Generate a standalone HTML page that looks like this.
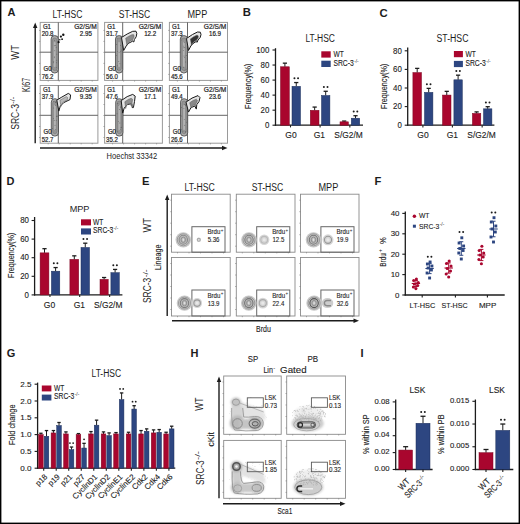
<!DOCTYPE html>
<html><head><meta charset="utf-8"><style>
html,body{margin:0;padding:0;background:#fff;}
svg{display:block;font-family:"Liberation Sans", sans-serif;}
</style></head><body>
<svg width="520" height="524" viewBox="0 0 520 524">
<defs><filter id="blur1" x="-50%" y="-50%" width="200%" height="200%"><feGaussianBlur stdDeviation="0.45"/></filter>
<filter id="blur3" x="-50%" y="-50%" width="200%" height="200%"><feGaussianBlur stdDeviation="0.7"/></filter>
<filter id="blur2" x="-50%" y="-50%" width="200%" height="200%"><feGaussianBlur stdDeviation="0.8"/></filter></defs>
<rect x="0" y="0" width="520" height="524" fill="#fff"/>
<text x="67.50" y="17.90" font-size="10.0" fill="#1c1c1c" text-anchor="middle" textLength="29.8" lengthAdjust="spacingAndGlyphs">LT-HSC</text>
<text x="134.50" y="17.90" font-size="10.0" fill="#1c1c1c" text-anchor="middle" textLength="31.3" lengthAdjust="spacingAndGlyphs">ST-HSC</text>
<text x="197.40" y="17.90" font-size="10.0" fill="#1c1c1c" text-anchor="middle" textLength="19.7" lengthAdjust="spacingAndGlyphs">MPP</text>
<rect x="40.20" y="22.40" width="57.70" height="58.00" fill="none" stroke="#9a9a9a" stroke-width="1"/>
<line x1="58.30" y1="22.40" x2="58.30" y2="80.40" stroke="#555" stroke-width="0.9"/>
<line x1="40.20" y1="52.20" x2="97.90" y2="52.20" stroke="#555" stroke-width="0.9"/>
<line x1="48.20" y1="80.40" x2="48.20" y2="81.60" stroke="#777" stroke-width="0.6"/>
<line x1="40.20" y1="30.40" x2="39.00" y2="30.40" stroke="#777" stroke-width="0.6"/>
<line x1="59.20" y1="80.40" x2="59.20" y2="81.60" stroke="#777" stroke-width="0.6"/>
<line x1="40.20" y1="41.40" x2="39.00" y2="41.40" stroke="#777" stroke-width="0.6"/>
<line x1="70.20" y1="80.40" x2="70.20" y2="81.60" stroke="#777" stroke-width="0.6"/>
<line x1="40.20" y1="52.40" x2="39.00" y2="52.40" stroke="#777" stroke-width="0.6"/>
<line x1="81.20" y1="80.40" x2="81.20" y2="81.60" stroke="#777" stroke-width="0.6"/>
<line x1="40.20" y1="63.40" x2="39.00" y2="63.40" stroke="#777" stroke-width="0.6"/>
<line x1="92.20" y1="80.40" x2="92.20" y2="81.60" stroke="#777" stroke-width="0.6"/>
<line x1="40.20" y1="74.40" x2="39.00" y2="74.40" stroke="#777" stroke-width="0.6"/>
<g transform="translate(39.800000000000004,22.0)"><g filter="url(#blur1)"><rect x="11.3" y="13.6" width="7.2" height="37.4" rx="3.4" fill="#acacac" stroke="#444" stroke-width="0.8"/><rect x="12.700000000000001" y="16" width="4.4" height="32.5" rx="2" fill="#959595" stroke="#6a6a6a" stroke-width="0.5"/><rect x="14.0" y="20" width="1.8" height="25" rx="0.8" fill="#b4b4b4"/><circle cx="16.69" cy="40.77" r="0.45" fill="#555"/><circle cx="14.49" cy="23.80" r="0.45" fill="#555"/><circle cx="14.96" cy="28.77" r="0.45" fill="#555"/><circle cx="16.38" cy="25.31" r="0.45" fill="#555"/><circle cx="14.78" cy="34.83" r="0.45" fill="#555"/><circle cx="17.02" cy="32.16" r="0.45" fill="#555"/><circle cx="13.77" cy="40.70" r="0.45" fill="#555"/><circle cx="15.52" cy="23.52" r="0.45" fill="#555"/><circle cx="17.03" cy="48.41" r="0.45" fill="#555"/><circle cx="16.51" cy="45.67" r="0.45" fill="#555"/><circle cx="13.91" cy="39.81" r="0.45" fill="#555"/><circle cx="16.97" cy="38.26" r="0.45" fill="#555"/><circle cx="14.76" cy="18.42" r="0.45" fill="#555"/><circle cx="14.56" cy="35.77" r="0.45" fill="#555"/></g><circle cx="21.1" cy="14.6" r="1.1" fill="#111"/><circle cx="22.3" cy="17.2" r="0.9" fill="#111"/><circle cx="18.8" cy="20.2" r="1.1" fill="#111"/><circle cx="23.5" cy="12.8" r="1.2" fill="#111"/><circle cx="20" cy="17.8" r="0.7" fill="#111"/></g>
<text x="42.90" y="28.90" font-size="6.8" fill="#1c1c1c" stroke="#1c1c1c" stroke-width="0.2" textLength="8.1" lengthAdjust="spacingAndGlyphs">G1</text>
<text x="41.70" y="36.20" font-size="7.0" fill="#1c1c1c" stroke="#1c1c1c" stroke-width="0.2" textLength="11.8" lengthAdjust="spacingAndGlyphs">20.8</text>
<text x="96.70" y="28.90" font-size="6.8" fill="#1c1c1c" text-anchor="end" stroke="#1c1c1c" stroke-width="0.2" textLength="22.5" lengthAdjust="spacingAndGlyphs">G2/S/M</text>
<text x="85.80" y="36.20" font-size="7.0" fill="#1c1c1c" text-anchor="middle" stroke="#1c1c1c" stroke-width="0.2" textLength="12.1" lengthAdjust="spacingAndGlyphs">2.95</text>
<text x="43.50" y="70.70" font-size="6.8" fill="#1c1c1c" stroke="#1c1c1c" stroke-width="0.2" textLength="8.1" lengthAdjust="spacingAndGlyphs">G0</text>
<text x="41.70" y="78.80" font-size="7.0" fill="#1c1c1c" stroke="#1c1c1c" stroke-width="0.2" textLength="11.8" lengthAdjust="spacingAndGlyphs">76.2</text>
<rect x="104.60" y="22.40" width="57.80" height="58.00" fill="none" stroke="#9a9a9a" stroke-width="1"/>
<line x1="122.70" y1="22.40" x2="122.70" y2="80.40" stroke="#555" stroke-width="0.9"/>
<line x1="104.60" y1="52.20" x2="162.40" y2="52.20" stroke="#555" stroke-width="0.9"/>
<line x1="112.60" y1="80.40" x2="112.60" y2="81.60" stroke="#777" stroke-width="0.6"/>
<line x1="104.60" y1="30.40" x2="103.40" y2="30.40" stroke="#777" stroke-width="0.6"/>
<line x1="123.60" y1="80.40" x2="123.60" y2="81.60" stroke="#777" stroke-width="0.6"/>
<line x1="104.60" y1="41.40" x2="103.40" y2="41.40" stroke="#777" stroke-width="0.6"/>
<line x1="134.60" y1="80.40" x2="134.60" y2="81.60" stroke="#777" stroke-width="0.6"/>
<line x1="104.60" y1="52.40" x2="103.40" y2="52.40" stroke="#777" stroke-width="0.6"/>
<line x1="145.60" y1="80.40" x2="145.60" y2="81.60" stroke="#777" stroke-width="0.6"/>
<line x1="104.60" y1="63.40" x2="103.40" y2="63.40" stroke="#777" stroke-width="0.6"/>
<line x1="156.60" y1="80.40" x2="156.60" y2="81.60" stroke="#777" stroke-width="0.6"/>
<line x1="104.60" y1="74.40" x2="103.40" y2="74.40" stroke="#777" stroke-width="0.6"/>
<g transform="translate(104.19999999999999,22.0)"><g filter="url(#blur1)"><rect x="11.3" y="13.6" width="7.2" height="37.4" rx="3.4" fill="#acacac" stroke="#444" stroke-width="0.8"/><rect x="12.700000000000001" y="16" width="4.4" height="32.5" rx="2" fill="#959595" stroke="#6a6a6a" stroke-width="0.5"/><rect x="14.0" y="20" width="1.8" height="25" rx="0.8" fill="#b4b4b4"/><circle cx="13.00" cy="43.81" r="0.45" fill="#555"/><circle cx="16.27" cy="23.67" r="0.45" fill="#555"/><circle cx="14.88" cy="30.28" r="0.45" fill="#555"/><circle cx="15.69" cy="41.82" r="0.45" fill="#555"/><circle cx="12.79" cy="15.96" r="0.45" fill="#555"/><circle cx="16.65" cy="29.71" r="0.45" fill="#555"/><circle cx="16.26" cy="15.07" r="0.45" fill="#555"/><circle cx="14.62" cy="39.53" r="0.45" fill="#555"/><circle cx="13.49" cy="47.14" r="0.45" fill="#555"/><circle cx="16.99" cy="16.04" r="0.45" fill="#555"/><circle cx="12.43" cy="33.41" r="0.45" fill="#555"/><circle cx="17.18" cy="27.96" r="0.45" fill="#555"/><circle cx="13.43" cy="29.35" r="0.45" fill="#555"/><circle cx="12.45" cy="22.54" r="0.45" fill="#555"/></g><polygon points="17.3,15.5 23,12 28.5,9.3 31.8,9.2 32.6,11.5 32,14.8 30.2,17.5 29.6,20 28.4,19.2 24.5,21.2 22,24 19.5,28.5" fill="#e4e4e4" stroke="#1a1a1a" stroke-width="1" stroke-linejoin="round"/><polygon points="21.49,16.13 24.63,14.20 27.65,12.72 29.47,12.66 29.91,13.93 29.58,15.74 28.59,17.23 28.26,18.60 27.60,18.16 25.45,19.26 24.08,20.80 22.70,23.28" fill="#8a8a8a" stroke="#555" stroke-width="0.5" filter="url(#blur1)"/></g>
<text x="107.30" y="28.90" font-size="6.8" fill="#1c1c1c" stroke="#1c1c1c" stroke-width="0.2" textLength="8.1" lengthAdjust="spacingAndGlyphs">G1</text>
<text x="106.10" y="36.20" font-size="7.0" fill="#1c1c1c" stroke="#1c1c1c" stroke-width="0.2" textLength="11.8" lengthAdjust="spacingAndGlyphs">31.7</text>
<text x="161.20" y="28.90" font-size="6.8" fill="#1c1c1c" text-anchor="end" stroke="#1c1c1c" stroke-width="0.2" textLength="22.5" lengthAdjust="spacingAndGlyphs">G2/S/M</text>
<text x="150.20" y="36.20" font-size="7.0" fill="#1c1c1c" text-anchor="middle" stroke="#1c1c1c" stroke-width="0.2" textLength="12.1" lengthAdjust="spacingAndGlyphs">12.2</text>
<text x="107.90" y="70.70" font-size="6.8" fill="#1c1c1c" stroke="#1c1c1c" stroke-width="0.2" textLength="8.1" lengthAdjust="spacingAndGlyphs">G0</text>
<text x="106.10" y="78.80" font-size="7.0" fill="#1c1c1c" stroke="#1c1c1c" stroke-width="0.2" textLength="11.8" lengthAdjust="spacingAndGlyphs">56.0</text>
<rect x="169.40" y="22.40" width="58.10" height="58.00" fill="none" stroke="#9a9a9a" stroke-width="1"/>
<line x1="187.50" y1="22.40" x2="187.50" y2="80.40" stroke="#555" stroke-width="0.9"/>
<line x1="169.40" y1="52.20" x2="227.50" y2="52.20" stroke="#555" stroke-width="0.9"/>
<line x1="177.40" y1="80.40" x2="177.40" y2="81.60" stroke="#777" stroke-width="0.6"/>
<line x1="169.40" y1="30.40" x2="168.20" y2="30.40" stroke="#777" stroke-width="0.6"/>
<line x1="188.40" y1="80.40" x2="188.40" y2="81.60" stroke="#777" stroke-width="0.6"/>
<line x1="169.40" y1="41.40" x2="168.20" y2="41.40" stroke="#777" stroke-width="0.6"/>
<line x1="199.40" y1="80.40" x2="199.40" y2="81.60" stroke="#777" stroke-width="0.6"/>
<line x1="169.40" y1="52.40" x2="168.20" y2="52.40" stroke="#777" stroke-width="0.6"/>
<line x1="210.40" y1="80.40" x2="210.40" y2="81.60" stroke="#777" stroke-width="0.6"/>
<line x1="169.40" y1="63.40" x2="168.20" y2="63.40" stroke="#777" stroke-width="0.6"/>
<line x1="221.40" y1="80.40" x2="221.40" y2="81.60" stroke="#777" stroke-width="0.6"/>
<line x1="169.40" y1="74.40" x2="168.20" y2="74.40" stroke="#777" stroke-width="0.6"/>
<g transform="translate(169.0,22.0)"><g filter="url(#blur1)"><rect x="11.3" y="13.6" width="7.2" height="37.4" rx="3.4" fill="#acacac" stroke="#444" stroke-width="0.8"/><rect x="12.700000000000001" y="16" width="4.4" height="32.5" rx="2" fill="#959595" stroke="#6a6a6a" stroke-width="0.5"/><rect x="14.0" y="20" width="1.8" height="25" rx="0.8" fill="#b4b4b4"/><circle cx="17.27" cy="47.23" r="0.45" fill="#555"/><circle cx="12.59" cy="17.89" r="0.45" fill="#555"/><circle cx="16.64" cy="40.02" r="0.45" fill="#555"/><circle cx="15.78" cy="25.48" r="0.45" fill="#555"/><circle cx="15.45" cy="35.63" r="0.45" fill="#555"/><circle cx="15.32" cy="20.39" r="0.45" fill="#555"/><circle cx="14.54" cy="28.38" r="0.45" fill="#555"/><circle cx="16.06" cy="48.82" r="0.45" fill="#555"/><circle cx="17.24" cy="33.50" r="0.45" fill="#555"/><circle cx="14.61" cy="24.12" r="0.45" fill="#555"/><circle cx="12.49" cy="15.93" r="0.45" fill="#555"/><circle cx="14.72" cy="25.83" r="0.45" fill="#555"/><circle cx="14.28" cy="45.32" r="0.45" fill="#555"/><circle cx="15.03" cy="34.06" r="0.45" fill="#555"/></g><polygon points="17.5,16.5 23.5,12.5 28.5,10 31.3,10.2 32,12.5 31.2,15.5 29,18 28.2,20.2 27,19.6 24,21.5 21.8,24 19.5,28.5" fill="#e4e4e4" stroke="#1a1a1a" stroke-width="1" stroke-linejoin="round"/><polygon points="21.38,16.91 24.68,14.71 27.43,13.34 28.97,13.45 29.36,14.71 28.92,16.36 27.71,17.74 27.27,18.95 26.61,18.62 24.96,19.66 23.75,21.04 22.48,23.51" fill="#333" stroke="#555" stroke-width="0.5" filter="url(#blur1)"/></g>
<text x="172.10" y="28.90" font-size="6.8" fill="#1c1c1c" stroke="#1c1c1c" stroke-width="0.2" textLength="8.1" lengthAdjust="spacingAndGlyphs">G1</text>
<text x="170.90" y="36.20" font-size="7.0" fill="#1c1c1c" stroke="#1c1c1c" stroke-width="0.2" textLength="11.8" lengthAdjust="spacingAndGlyphs">37.3</text>
<text x="226.30" y="28.90" font-size="6.8" fill="#1c1c1c" text-anchor="end" stroke="#1c1c1c" stroke-width="0.2" textLength="22.5" lengthAdjust="spacingAndGlyphs">G2/S/M</text>
<text x="215.00" y="36.20" font-size="7.0" fill="#1c1c1c" text-anchor="middle" stroke="#1c1c1c" stroke-width="0.2" textLength="12.1" lengthAdjust="spacingAndGlyphs">16.9</text>
<text x="172.70" y="70.70" font-size="6.8" fill="#1c1c1c" stroke="#1c1c1c" stroke-width="0.2" textLength="8.1" lengthAdjust="spacingAndGlyphs">G0</text>
<text x="170.90" y="78.80" font-size="7.0" fill="#1c1c1c" stroke="#1c1c1c" stroke-width="0.2" textLength="11.8" lengthAdjust="spacingAndGlyphs">45.6</text>
<rect x="40.20" y="85.50" width="57.70" height="57.70" fill="none" stroke="#9a9a9a" stroke-width="1"/>
<line x1="58.30" y1="85.50" x2="58.30" y2="143.20" stroke="#555" stroke-width="0.9"/>
<line x1="40.20" y1="115.30" x2="97.90" y2="115.30" stroke="#555" stroke-width="0.9"/>
<line x1="48.20" y1="143.20" x2="48.20" y2="144.40" stroke="#777" stroke-width="0.6"/>
<line x1="40.20" y1="93.50" x2="39.00" y2="93.50" stroke="#777" stroke-width="0.6"/>
<line x1="59.20" y1="143.20" x2="59.20" y2="144.40" stroke="#777" stroke-width="0.6"/>
<line x1="40.20" y1="104.50" x2="39.00" y2="104.50" stroke="#777" stroke-width="0.6"/>
<line x1="70.20" y1="143.20" x2="70.20" y2="144.40" stroke="#777" stroke-width="0.6"/>
<line x1="40.20" y1="115.50" x2="39.00" y2="115.50" stroke="#777" stroke-width="0.6"/>
<line x1="81.20" y1="143.20" x2="81.20" y2="144.40" stroke="#777" stroke-width="0.6"/>
<line x1="40.20" y1="126.50" x2="39.00" y2="126.50" stroke="#777" stroke-width="0.6"/>
<line x1="92.20" y1="143.20" x2="92.20" y2="144.40" stroke="#777" stroke-width="0.6"/>
<line x1="40.20" y1="137.50" x2="39.00" y2="137.50" stroke="#777" stroke-width="0.6"/>
<g transform="translate(39.800000000000004,85.1)"><g filter="url(#blur1)"><rect x="11.5" y="13.6" width="7.2" height="37.4" rx="3.4" fill="#acacac" stroke="#444" stroke-width="0.8"/><rect x="12.9" y="16" width="4.4" height="32.5" rx="2" fill="#959595" stroke="#6a6a6a" stroke-width="0.5"/><rect x="14.2" y="20" width="1.8" height="25" rx="0.8" fill="#b4b4b4"/><circle cx="13.74" cy="33.50" r="0.45" fill="#555"/><circle cx="14.42" cy="35.53" r="0.45" fill="#555"/><circle cx="15.75" cy="17.23" r="0.45" fill="#555"/><circle cx="12.57" cy="43.47" r="0.45" fill="#555"/><circle cx="13.85" cy="22.97" r="0.45" fill="#555"/><circle cx="17.68" cy="30.99" r="0.45" fill="#555"/><circle cx="16.85" cy="31.20" r="0.45" fill="#555"/><circle cx="15.82" cy="20.12" r="0.45" fill="#555"/><circle cx="15.80" cy="44.51" r="0.45" fill="#555"/><circle cx="15.22" cy="40.20" r="0.45" fill="#555"/><circle cx="15.99" cy="17.18" r="0.45" fill="#555"/><circle cx="16.44" cy="35.10" r="0.45" fill="#555"/><circle cx="14.07" cy="16.05" r="0.45" fill="#555"/><circle cx="17.00" cy="31.07" r="0.45" fill="#555"/></g><polygon points="17,15 22,12 28.5,8.3 30.8,9.8 30.2,14.5 24,17.5 20.5,21 19,26" fill="#e4e4e4" stroke="#1a1a1a" stroke-width="1" stroke-linejoin="round"/><polygon points="20.15,15.23 22.90,13.58 26.48,11.55 27.74,12.37 27.41,14.96 24.00,16.61 22.07,18.53 21.25,21.28" fill="#b8b8b8" stroke="#555" stroke-width="0.5" filter="url(#blur1)"/></g>
<text x="42.90" y="92.00" font-size="6.8" fill="#1c1c1c" stroke="#1c1c1c" stroke-width="0.2" textLength="8.1" lengthAdjust="spacingAndGlyphs">G1</text>
<text x="41.70" y="99.30" font-size="7.0" fill="#1c1c1c" stroke="#1c1c1c" stroke-width="0.2" textLength="11.8" lengthAdjust="spacingAndGlyphs">37.9</text>
<text x="96.70" y="92.00" font-size="6.8" fill="#1c1c1c" text-anchor="end" stroke="#1c1c1c" stroke-width="0.2" textLength="22.5" lengthAdjust="spacingAndGlyphs">G2/S/M</text>
<text x="85.80" y="99.30" font-size="7.0" fill="#1c1c1c" text-anchor="middle" stroke="#1c1c1c" stroke-width="0.2" textLength="12.1" lengthAdjust="spacingAndGlyphs">9.35</text>
<text x="43.50" y="133.80" font-size="6.8" fill="#1c1c1c" stroke="#1c1c1c" stroke-width="0.2" textLength="8.1" lengthAdjust="spacingAndGlyphs">G0</text>
<text x="41.70" y="141.90" font-size="7.0" fill="#1c1c1c" stroke="#1c1c1c" stroke-width="0.2" textLength="11.8" lengthAdjust="spacingAndGlyphs">52.7</text>
<rect x="104.60" y="85.50" width="57.80" height="57.70" fill="none" stroke="#9a9a9a" stroke-width="1"/>
<line x1="122.70" y1="85.50" x2="122.70" y2="143.20" stroke="#555" stroke-width="0.9"/>
<line x1="104.60" y1="115.30" x2="162.40" y2="115.30" stroke="#555" stroke-width="0.9"/>
<line x1="112.60" y1="143.20" x2="112.60" y2="144.40" stroke="#777" stroke-width="0.6"/>
<line x1="104.60" y1="93.50" x2="103.40" y2="93.50" stroke="#777" stroke-width="0.6"/>
<line x1="123.60" y1="143.20" x2="123.60" y2="144.40" stroke="#777" stroke-width="0.6"/>
<line x1="104.60" y1="104.50" x2="103.40" y2="104.50" stroke="#777" stroke-width="0.6"/>
<line x1="134.60" y1="143.20" x2="134.60" y2="144.40" stroke="#777" stroke-width="0.6"/>
<line x1="104.60" y1="115.50" x2="103.40" y2="115.50" stroke="#777" stroke-width="0.6"/>
<line x1="145.60" y1="143.20" x2="145.60" y2="144.40" stroke="#777" stroke-width="0.6"/>
<line x1="104.60" y1="126.50" x2="103.40" y2="126.50" stroke="#777" stroke-width="0.6"/>
<line x1="156.60" y1="143.20" x2="156.60" y2="144.40" stroke="#777" stroke-width="0.6"/>
<line x1="104.60" y1="137.50" x2="103.40" y2="137.50" stroke="#777" stroke-width="0.6"/>
<g transform="translate(104.19999999999999,85.1)"><g filter="url(#blur1)"><rect x="11.5" y="13.6" width="7.2" height="37.4" rx="3.4" fill="#acacac" stroke="#444" stroke-width="0.8"/><rect x="12.9" y="16" width="4.4" height="32.5" rx="2" fill="#959595" stroke="#6a6a6a" stroke-width="0.5"/><rect x="14.2" y="20" width="1.8" height="25" rx="0.8" fill="#b4b4b4"/><circle cx="13.73" cy="18.51" r="0.45" fill="#555"/><circle cx="14.56" cy="20.27" r="0.45" fill="#555"/><circle cx="12.85" cy="28.65" r="0.45" fill="#555"/><circle cx="17.27" cy="42.22" r="0.45" fill="#555"/><circle cx="16.48" cy="22.55" r="0.45" fill="#555"/><circle cx="15.29" cy="24.41" r="0.45" fill="#555"/><circle cx="13.40" cy="18.61" r="0.45" fill="#555"/><circle cx="13.61" cy="46.53" r="0.45" fill="#555"/><circle cx="16.81" cy="42.43" r="0.45" fill="#555"/><circle cx="16.66" cy="21.58" r="0.45" fill="#555"/><circle cx="14.11" cy="36.32" r="0.45" fill="#555"/><circle cx="16.31" cy="44.06" r="0.45" fill="#555"/><circle cx="17.08" cy="17.95" r="0.45" fill="#555"/><circle cx="15.65" cy="37.84" r="0.45" fill="#555"/></g><polygon points="17,15.5 23,11.5 28.5,9.3 31,11 30.3,16.5 29.2,22.5 28,22.5 27.6,18.5 23,19.5 20,23 18.5,28" fill="#e4e4e4" stroke="#1a1a1a" stroke-width="1" stroke-linejoin="round"/><polygon points="20.64,16.62 23.95,14.42 26.97,13.21 28.35,14.14 27.96,17.17 27.36,20.47 26.70,20.47 26.48,18.27 23.95,18.82 22.30,20.74 21.47,23.49" fill="#909090" stroke="#555" stroke-width="0.5" filter="url(#blur1)"/></g>
<text x="107.30" y="92.00" font-size="6.8" fill="#1c1c1c" stroke="#1c1c1c" stroke-width="0.2" textLength="8.1" lengthAdjust="spacingAndGlyphs">G1</text>
<text x="106.10" y="99.30" font-size="7.0" fill="#1c1c1c" stroke="#1c1c1c" stroke-width="0.2" textLength="11.8" lengthAdjust="spacingAndGlyphs">47.6</text>
<text x="161.20" y="92.00" font-size="6.8" fill="#1c1c1c" text-anchor="end" stroke="#1c1c1c" stroke-width="0.2" textLength="22.5" lengthAdjust="spacingAndGlyphs">G2/S/M</text>
<text x="150.20" y="99.30" font-size="7.0" fill="#1c1c1c" text-anchor="middle" stroke="#1c1c1c" stroke-width="0.2" textLength="12.1" lengthAdjust="spacingAndGlyphs">17.1</text>
<text x="107.90" y="133.80" font-size="6.8" fill="#1c1c1c" stroke="#1c1c1c" stroke-width="0.2" textLength="8.1" lengthAdjust="spacingAndGlyphs">G0</text>
<text x="106.10" y="141.90" font-size="7.0" fill="#1c1c1c" stroke="#1c1c1c" stroke-width="0.2" textLength="11.8" lengthAdjust="spacingAndGlyphs">35.2</text>
<rect x="169.40" y="85.50" width="58.10" height="57.70" fill="none" stroke="#9a9a9a" stroke-width="1"/>
<line x1="187.50" y1="85.50" x2="187.50" y2="143.20" stroke="#555" stroke-width="0.9"/>
<line x1="169.40" y1="115.30" x2="227.50" y2="115.30" stroke="#555" stroke-width="0.9"/>
<line x1="177.40" y1="143.20" x2="177.40" y2="144.40" stroke="#777" stroke-width="0.6"/>
<line x1="169.40" y1="93.50" x2="168.20" y2="93.50" stroke="#777" stroke-width="0.6"/>
<line x1="188.40" y1="143.20" x2="188.40" y2="144.40" stroke="#777" stroke-width="0.6"/>
<line x1="169.40" y1="104.50" x2="168.20" y2="104.50" stroke="#777" stroke-width="0.6"/>
<line x1="199.40" y1="143.20" x2="199.40" y2="144.40" stroke="#777" stroke-width="0.6"/>
<line x1="169.40" y1="115.50" x2="168.20" y2="115.50" stroke="#777" stroke-width="0.6"/>
<line x1="210.40" y1="143.20" x2="210.40" y2="144.40" stroke="#777" stroke-width="0.6"/>
<line x1="169.40" y1="126.50" x2="168.20" y2="126.50" stroke="#777" stroke-width="0.6"/>
<line x1="221.40" y1="143.20" x2="221.40" y2="144.40" stroke="#777" stroke-width="0.6"/>
<line x1="169.40" y1="137.50" x2="168.20" y2="137.50" stroke="#777" stroke-width="0.6"/>
<g transform="translate(169.0,85.1)"><g filter="url(#blur1)"><rect x="11.5" y="13.6" width="7.2" height="37.4" rx="3.4" fill="#acacac" stroke="#444" stroke-width="0.8"/><rect x="12.9" y="16" width="4.4" height="32.5" rx="2" fill="#959595" stroke="#6a6a6a" stroke-width="0.5"/><rect x="14.2" y="20" width="1.8" height="25" rx="0.8" fill="#b4b4b4"/><circle cx="15.74" cy="40.22" r="0.45" fill="#555"/><circle cx="16.64" cy="47.04" r="0.45" fill="#555"/><circle cx="16.35" cy="46.36" r="0.45" fill="#555"/><circle cx="12.65" cy="30.83" r="0.45" fill="#555"/><circle cx="17.41" cy="37.07" r="0.45" fill="#555"/><circle cx="17.18" cy="18.85" r="0.45" fill="#555"/><circle cx="14.94" cy="23.38" r="0.45" fill="#555"/><circle cx="15.33" cy="34.51" r="0.45" fill="#555"/><circle cx="12.57" cy="22.37" r="0.45" fill="#555"/><circle cx="13.95" cy="46.16" r="0.45" fill="#555"/><circle cx="16.48" cy="20.43" r="0.45" fill="#555"/><circle cx="16.65" cy="19.72" r="0.45" fill="#555"/><circle cx="15.71" cy="19.31" r="0.45" fill="#555"/><circle cx="12.51" cy="44.63" r="0.45" fill="#555"/></g><polygon points="17,17 23,13 29,10.5 31,12.5 30,16.5 27.8,19.5 27.3,24 25.8,21 22,22.5 19.5,27" fill="#e4e4e4" stroke="#1a1a1a" stroke-width="1" stroke-linejoin="round"/><polygon points="20.71,17.61 24.01,15.41 27.31,14.03 28.41,15.13 27.86,17.33 26.65,18.98 26.37,21.46 25.55,19.81 23.46,20.63 22.08,23.11" fill="#888" stroke="#555" stroke-width="0.5" filter="url(#blur1)"/></g>
<text x="172.10" y="92.00" font-size="6.8" fill="#1c1c1c" stroke="#1c1c1c" stroke-width="0.2" textLength="8.1" lengthAdjust="spacingAndGlyphs">G1</text>
<text x="170.90" y="99.30" font-size="7.0" fill="#1c1c1c" stroke="#1c1c1c" stroke-width="0.2" textLength="11.8" lengthAdjust="spacingAndGlyphs">49.4</text>
<text x="226.30" y="92.00" font-size="6.8" fill="#1c1c1c" text-anchor="end" stroke="#1c1c1c" stroke-width="0.2" textLength="22.5" lengthAdjust="spacingAndGlyphs">G2/S/M</text>
<text x="215.00" y="99.30" font-size="7.0" fill="#1c1c1c" text-anchor="middle" stroke="#1c1c1c" stroke-width="0.2" textLength="12.1" lengthAdjust="spacingAndGlyphs">23.6</text>
<text x="172.70" y="133.80" font-size="6.8" fill="#1c1c1c" stroke="#1c1c1c" stroke-width="0.2" textLength="8.1" lengthAdjust="spacingAndGlyphs">G0</text>
<text x="170.90" y="141.90" font-size="7.0" fill="#1c1c1c" stroke="#1c1c1c" stroke-width="0.2" textLength="11.8" lengthAdjust="spacingAndGlyphs">26.6</text>
<line x1="35.20" y1="27.00" x2="35.20" y2="143.20" stroke="#1c1c1c" stroke-width="1.4"/>
<path d="M33.00,28.00 L35.20,22.50 L37.40,28.00 Z" fill="#1c1c1c"/>
<line x1="40.00" y1="148.00" x2="223.00" y2="148.00" stroke="#1c1c1c" stroke-width="1.4"/>
<path d="M222.00,145.80 L227.50,148.00 L222.00,150.20 Z" fill="#1c1c1c"/>
<text x="30.20" y="84.90" font-size="10.0" fill="#1c1c1c" text-anchor="middle" textLength="14.3" lengthAdjust="spacingAndGlyphs" transform="rotate(-90 30.20 84.90)">Ki67</text>
<text x="19.00" y="52.40" font-size="10.0" fill="#1c1c1c" text-anchor="middle" textLength="14.6" lengthAdjust="spacingAndGlyphs" transform="rotate(-90 19.00 52.40)">WT</text>
<g transform="translate(19.20,129.80) rotate(-90)"><text x="0.00" y="0" font-size="10.00" textLength="25.7" lengthAdjust="spacingAndGlyphs" fill="#1c1c1c">SRC-3</text><text x="26.10" y="-3.80" font-size="6.50" fill="#1c1c1c" textLength="7" lengthAdjust="spacingAndGlyphs">-/-</text></g>
<text x="131.90" y="159.20" font-size="9.5" fill="#1c1c1c" text-anchor="middle" textLength="50.6" lengthAdjust="spacingAndGlyphs">Hoechst 33342</text>
<text x="7.40" y="16.40" font-size="11" fill="#1c1c1c" font-weight="bold">A</text>
<text x="242.80" y="16.30" font-size="11.3" fill="#1c1c1c" font-weight="bold">B</text>
<text x="379.50" y="16.60" font-size="11.3" fill="#1c1c1c" font-weight="bold">C</text>
<text x="6.60" y="184.70" font-size="11" fill="#1c1c1c" font-weight="bold">D</text>
<line x1="275.50" y1="48.20" x2="275.50" y2="125.80" stroke="#1c1c1c" stroke-width="1.3"/>
<line x1="274.85" y1="125.20" x2="363.00" y2="125.20" stroke="#1c1c1c" stroke-width="1.3"/>
<line x1="272.50" y1="125.20" x2="275.50" y2="125.20" stroke="#1c1c1c" stroke-width="1.1"/>
<text x="269.40" y="127.90" font-size="8.53" fill="#1c1c1c" text-anchor="end" stroke="#1c1c1c" stroke-width="0.12" textLength="4.39" lengthAdjust="spacingAndGlyphs">0</text>
<line x1="272.50" y1="110.16" x2="275.50" y2="110.16" stroke="#1c1c1c" stroke-width="1.1"/>
<text x="269.40" y="112.86" font-size="8.53" fill="#1c1c1c" text-anchor="end" stroke="#1c1c1c" stroke-width="0.12" textLength="8.79" lengthAdjust="spacingAndGlyphs">20</text>
<line x1="272.50" y1="95.12" x2="275.50" y2="95.12" stroke="#1c1c1c" stroke-width="1.1"/>
<text x="269.40" y="97.82" font-size="8.53" fill="#1c1c1c" text-anchor="end" stroke="#1c1c1c" stroke-width="0.12" textLength="8.79" lengthAdjust="spacingAndGlyphs">40</text>
<line x1="272.50" y1="80.08" x2="275.50" y2="80.08" stroke="#1c1c1c" stroke-width="1.1"/>
<text x="269.40" y="82.78" font-size="8.53" fill="#1c1c1c" text-anchor="end" stroke="#1c1c1c" stroke-width="0.12" textLength="8.79" lengthAdjust="spacingAndGlyphs">60</text>
<line x1="272.50" y1="65.04" x2="275.50" y2="65.04" stroke="#1c1c1c" stroke-width="1.1"/>
<text x="269.40" y="67.74" font-size="8.53" fill="#1c1c1c" text-anchor="end" stroke="#1c1c1c" stroke-width="0.12" textLength="8.79" lengthAdjust="spacingAndGlyphs">80</text>
<line x1="272.50" y1="50.00" x2="275.50" y2="50.00" stroke="#1c1c1c" stroke-width="1.1"/>
<text x="269.40" y="52.70" font-size="8.53" fill="#1c1c1c" text-anchor="end" stroke="#1c1c1c" stroke-width="0.12" textLength="13.18" lengthAdjust="spacingAndGlyphs">100</text>
<line x1="284.90" y1="63.16" x2="284.90" y2="66.77" stroke="#1c1c1c" stroke-width="1.0"/>
<line x1="282.80" y1="63.16" x2="287.00" y2="63.16" stroke="#1c1c1c" stroke-width="1.3"/>
<rect x="280.50" y="66.77" width="8.80" height="58.43" fill="#A9062E" stroke="#7d0420" stroke-width="0.5"/>
<line x1="296.25" y1="82.56" x2="296.25" y2="86.32" stroke="#1c1c1c" stroke-width="1.0"/>
<line x1="294.15" y1="82.56" x2="298.35" y2="82.56" stroke="#1c1c1c" stroke-width="1.3"/>
<rect x="292.00" y="86.32" width="8.50" height="38.88" fill="#2D4681" stroke="#1d2f5a" stroke-width="0.5"/>
<circle cx="294.45" cy="78.36" r="1.0" fill="#1c1c1c"/>
<circle cx="298.05" cy="78.36" r="1.0" fill="#1c1c1c"/>
<line x1="314.65" y1="107.08" x2="314.65" y2="110.31" stroke="#1c1c1c" stroke-width="1.0"/>
<line x1="312.55" y1="107.08" x2="316.75" y2="107.08" stroke="#1c1c1c" stroke-width="1.3"/>
<rect x="310.30" y="110.31" width="8.70" height="14.89" fill="#A9062E" stroke="#7d0420" stroke-width="0.5"/>
<line x1="325.70" y1="91.28" x2="325.70" y2="95.50" stroke="#1c1c1c" stroke-width="1.0"/>
<line x1="323.60" y1="91.28" x2="327.80" y2="91.28" stroke="#1c1c1c" stroke-width="1.3"/>
<rect x="321.50" y="95.50" width="8.40" height="29.70" fill="#2D4681" stroke="#1d2f5a" stroke-width="0.5"/>
<circle cx="323.90" cy="87.08" r="1.0" fill="#1c1c1c"/>
<circle cx="327.50" cy="87.08" r="1.0" fill="#1c1c1c"/>
<line x1="344.20" y1="121.06" x2="344.20" y2="121.82" stroke="#1c1c1c" stroke-width="1.0"/>
<line x1="342.10" y1="121.06" x2="346.30" y2="121.06" stroke="#1c1c1c" stroke-width="1.3"/>
<rect x="340.00" y="121.82" width="8.40" height="3.38" fill="#A9062E" stroke="#7d0420" stroke-width="0.5"/>
<line x1="355.50" y1="115.72" x2="355.50" y2="118.21" stroke="#1c1c1c" stroke-width="1.0"/>
<line x1="353.40" y1="115.72" x2="357.60" y2="115.72" stroke="#1c1c1c" stroke-width="1.3"/>
<rect x="351.30" y="118.21" width="8.40" height="6.99" fill="#2D4681" stroke="#1d2f5a" stroke-width="0.5"/>
<circle cx="353.70" cy="111.52" r="1.0" fill="#1c1c1c"/>
<circle cx="357.30" cy="111.52" r="1.0" fill="#1c1c1c"/>
<line x1="290.50" y1="125.20" x2="290.50" y2="127.40" stroke="#1c1c1c" stroke-width="1.1"/>
<text x="291.00" y="137.60" font-size="8.5" fill="#1c1c1c" text-anchor="middle" stroke="#1c1c1c" stroke-width="0.12" textLength="11.34" lengthAdjust="spacingAndGlyphs">G0</text>
<line x1="320.10" y1="125.20" x2="320.10" y2="127.40" stroke="#1c1c1c" stroke-width="1.1"/>
<text x="319.30" y="137.60" font-size="8.5" fill="#1c1c1c" text-anchor="middle" stroke="#1c1c1c" stroke-width="0.12" textLength="11.34" lengthAdjust="spacingAndGlyphs">G1</text>
<line x1="349.85" y1="125.20" x2="349.85" y2="127.40" stroke="#1c1c1c" stroke-width="1.1"/>
<text x="348.50" y="137.60" font-size="8.5" fill="#1c1c1c" text-anchor="middle" stroke="#1c1c1c" stroke-width="0.12" textLength="28.4" lengthAdjust="spacingAndGlyphs">S/G2/M</text>
<text x="320.20" y="41.90" font-size="10.0" fill="#1c1c1c" text-anchor="middle" textLength="29.5" lengthAdjust="spacingAndGlyphs">LT-HSC</text>
<text x="251.20" y="86.40" font-size="8.2" fill="#1c1c1c" text-anchor="middle" stroke="#1c1c1c" stroke-width="0.12" textLength="45.2" lengthAdjust="spacingAndGlyphs" transform="rotate(-90 251.20 86.40)">Frequency(%)</text>
<rect x="321.30" y="51.30" width="9.40" height="6.30" fill="#A9062E"/>
<rect x="321.30" y="60.70" width="9.40" height="6.30" fill="#2D4681"/>
<text x="333.40" y="56.90" font-size="8.58" fill="#1c1c1c" stroke="#1c1c1c" stroke-width="0.12" textLength="10.3" lengthAdjust="spacingAndGlyphs">WT</text>
<g transform="translate(333.40,65.70)"><text x="0.00" y="0" font-size="8.58" textLength="20.4" lengthAdjust="spacingAndGlyphs" fill="#1c1c1c" stroke="#1c1c1c" stroke-width="0.12">SRC-3</text><text x="20.80" y="-2.96" font-size="5.15" fill="#1c1c1c" textLength="4.42" lengthAdjust="spacingAndGlyphs">-/-</text></g>
<line x1="407.70" y1="47.50" x2="407.70" y2="125.80" stroke="#1c1c1c" stroke-width="1.3"/>
<line x1="407.05" y1="125.20" x2="494.40" y2="125.20" stroke="#1c1c1c" stroke-width="1.3"/>
<line x1="404.70" y1="125.20" x2="407.70" y2="125.20" stroke="#1c1c1c" stroke-width="1.1"/>
<text x="401.90" y="127.90" font-size="8.53" fill="#1c1c1c" text-anchor="end" stroke="#1c1c1c" stroke-width="0.12" textLength="4.39" lengthAdjust="spacingAndGlyphs">0</text>
<line x1="404.70" y1="106.60" x2="407.70" y2="106.60" stroke="#1c1c1c" stroke-width="1.1"/>
<text x="401.90" y="109.30" font-size="8.53" fill="#1c1c1c" text-anchor="end" stroke="#1c1c1c" stroke-width="0.12" textLength="8.79" lengthAdjust="spacingAndGlyphs">20</text>
<line x1="404.70" y1="88.00" x2="407.70" y2="88.00" stroke="#1c1c1c" stroke-width="1.1"/>
<text x="401.90" y="90.70" font-size="8.53" fill="#1c1c1c" text-anchor="end" stroke="#1c1c1c" stroke-width="0.12" textLength="8.79" lengthAdjust="spacingAndGlyphs">40</text>
<line x1="404.70" y1="69.40" x2="407.70" y2="69.40" stroke="#1c1c1c" stroke-width="1.1"/>
<text x="401.90" y="72.10" font-size="8.53" fill="#1c1c1c" text-anchor="end" stroke="#1c1c1c" stroke-width="0.12" textLength="8.79" lengthAdjust="spacingAndGlyphs">60</text>
<line x1="404.70" y1="50.80" x2="407.70" y2="50.80" stroke="#1c1c1c" stroke-width="1.1"/>
<text x="401.90" y="53.50" font-size="8.53" fill="#1c1c1c" text-anchor="end" stroke="#1c1c1c" stroke-width="0.12" textLength="8.79" lengthAdjust="spacingAndGlyphs">80</text>
<line x1="417.20" y1="68.38" x2="417.20" y2="72.56" stroke="#1c1c1c" stroke-width="1.0"/>
<line x1="415.10" y1="68.38" x2="419.30" y2="68.38" stroke="#1c1c1c" stroke-width="1.3"/>
<rect x="412.90" y="72.56" width="8.60" height="52.64" fill="#A9062E" stroke="#7d0420" stroke-width="0.5"/>
<line x1="428.70" y1="88.37" x2="428.70" y2="92.37" stroke="#1c1c1c" stroke-width="1.0"/>
<line x1="426.60" y1="88.37" x2="430.80" y2="88.37" stroke="#1c1c1c" stroke-width="1.3"/>
<rect x="424.50" y="92.37" width="8.40" height="32.83" fill="#2D4681" stroke="#1d2f5a" stroke-width="0.5"/>
<circle cx="426.90" cy="84.17" r="1.0" fill="#1c1c1c"/>
<circle cx="430.50" cy="84.17" r="1.0" fill="#1c1c1c"/>
<line x1="446.75" y1="91.35" x2="446.75" y2="95.07" stroke="#1c1c1c" stroke-width="1.0"/>
<line x1="444.65" y1="91.35" x2="448.85" y2="91.35" stroke="#1c1c1c" stroke-width="1.3"/>
<rect x="442.50" y="95.07" width="8.50" height="30.13" fill="#A9062E" stroke="#7d0420" stroke-width="0.5"/>
<line x1="458.10" y1="75.17" x2="458.10" y2="79.82" stroke="#1c1c1c" stroke-width="1.0"/>
<line x1="456.00" y1="75.17" x2="460.20" y2="75.17" stroke="#1c1c1c" stroke-width="1.3"/>
<rect x="453.90" y="79.82" width="8.40" height="45.38" fill="#2D4681" stroke="#1d2f5a" stroke-width="0.5"/>
<circle cx="456.30" cy="70.97" r="1.0" fill="#1c1c1c"/>
<circle cx="459.90" cy="70.97" r="1.0" fill="#1c1c1c"/>
<line x1="476.60" y1="111.90" x2="476.60" y2="113.39" stroke="#1c1c1c" stroke-width="1.0"/>
<line x1="474.50" y1="111.90" x2="478.70" y2="111.90" stroke="#1c1c1c" stroke-width="1.3"/>
<rect x="472.40" y="113.39" width="8.40" height="11.81" fill="#A9062E" stroke="#7d0420" stroke-width="0.5"/>
<line x1="487.70" y1="106.69" x2="487.70" y2="108.83" stroke="#1c1c1c" stroke-width="1.0"/>
<line x1="485.60" y1="106.69" x2="489.80" y2="106.69" stroke="#1c1c1c" stroke-width="1.3"/>
<rect x="483.50" y="108.83" width="8.40" height="16.37" fill="#2D4681" stroke="#1d2f5a" stroke-width="0.5"/>
<circle cx="485.90" cy="102.49" r="1.0" fill="#1c1c1c"/>
<circle cx="489.50" cy="102.49" r="1.0" fill="#1c1c1c"/>
<line x1="422.90" y1="125.20" x2="422.90" y2="127.40" stroke="#1c1c1c" stroke-width="1.1"/>
<text x="423.00" y="137.60" font-size="8.5" fill="#1c1c1c" text-anchor="middle" stroke="#1c1c1c" stroke-width="0.12" textLength="11.34" lengthAdjust="spacingAndGlyphs">G0</text>
<line x1="452.40" y1="125.20" x2="452.40" y2="127.40" stroke="#1c1c1c" stroke-width="1.1"/>
<text x="452.40" y="137.60" font-size="8.5" fill="#1c1c1c" text-anchor="middle" stroke="#1c1c1c" stroke-width="0.12" textLength="11.34" lengthAdjust="spacingAndGlyphs">G1</text>
<line x1="482.15" y1="125.20" x2="482.15" y2="127.40" stroke="#1c1c1c" stroke-width="1.1"/>
<text x="481.50" y="137.60" font-size="8.5" fill="#1c1c1c" text-anchor="middle" stroke="#1c1c1c" stroke-width="0.12" textLength="28.4" lengthAdjust="spacingAndGlyphs">S/G2/M</text>
<text x="452.50" y="41.90" font-size="10.0" fill="#1c1c1c" text-anchor="middle" textLength="31.9" lengthAdjust="spacingAndGlyphs">ST-HSC</text>
<text x="387.00" y="86.40" font-size="8.2" fill="#1c1c1c" text-anchor="middle" stroke="#1c1c1c" stroke-width="0.12" textLength="45.2" lengthAdjust="spacingAndGlyphs" transform="rotate(-90 387.00 86.40)">Frequency(%)</text>
<rect x="453.90" y="51.00" width="9.00" height="6.20" fill="#A9062E"/>
<rect x="453.90" y="60.90" width="9.00" height="6.20" fill="#2D4681"/>
<text x="465.40" y="56.50" font-size="8.58" fill="#1c1c1c" stroke="#1c1c1c" stroke-width="0.12" textLength="10.3" lengthAdjust="spacingAndGlyphs">WT</text>
<g transform="translate(465.40,65.80)"><text x="0.00" y="0" font-size="8.58" textLength="20.4" lengthAdjust="spacingAndGlyphs" fill="#1c1c1c" stroke="#1c1c1c" stroke-width="0.12">SRC-3</text><text x="20.80" y="-2.96" font-size="5.15" fill="#1c1c1c" textLength="4.42" lengthAdjust="spacingAndGlyphs">-/-</text></g>
<line x1="34.60" y1="217.00" x2="34.60" y2="295.50" stroke="#1c1c1c" stroke-width="1.3"/>
<line x1="33.95" y1="294.90" x2="122.40" y2="294.90" stroke="#1c1c1c" stroke-width="1.3"/>
<line x1="31.60" y1="294.90" x2="34.60" y2="294.90" stroke="#1c1c1c" stroke-width="1.1"/>
<text x="29.00" y="297.60" font-size="8.53" fill="#1c1c1c" text-anchor="end" stroke="#1c1c1c" stroke-width="0.12" textLength="4.39" lengthAdjust="spacingAndGlyphs">0</text>
<line x1="31.60" y1="276.30" x2="34.60" y2="276.30" stroke="#1c1c1c" stroke-width="1.1"/>
<text x="29.00" y="279.00" font-size="8.53" fill="#1c1c1c" text-anchor="end" stroke="#1c1c1c" stroke-width="0.12" textLength="8.79" lengthAdjust="spacingAndGlyphs">20</text>
<line x1="31.60" y1="257.70" x2="34.60" y2="257.70" stroke="#1c1c1c" stroke-width="1.1"/>
<text x="29.00" y="260.40" font-size="8.53" fill="#1c1c1c" text-anchor="end" stroke="#1c1c1c" stroke-width="0.12" textLength="8.79" lengthAdjust="spacingAndGlyphs">40</text>
<line x1="31.60" y1="239.10" x2="34.60" y2="239.10" stroke="#1c1c1c" stroke-width="1.1"/>
<text x="29.00" y="241.80" font-size="8.53" fill="#1c1c1c" text-anchor="end" stroke="#1c1c1c" stroke-width="0.12" textLength="8.79" lengthAdjust="spacingAndGlyphs">60</text>
<line x1="31.60" y1="220.50" x2="34.60" y2="220.50" stroke="#1c1c1c" stroke-width="1.1"/>
<text x="29.00" y="223.20" font-size="8.53" fill="#1c1c1c" text-anchor="end" stroke="#1c1c1c" stroke-width="0.12" textLength="8.79" lengthAdjust="spacingAndGlyphs">80</text>
<line x1="44.50" y1="248.68" x2="44.50" y2="252.86" stroke="#1c1c1c" stroke-width="1.0"/>
<line x1="42.40" y1="248.68" x2="46.60" y2="248.68" stroke="#1c1c1c" stroke-width="1.3"/>
<rect x="40.10" y="252.86" width="8.80" height="42.04" fill="#A9062E" stroke="#7d0420" stroke-width="0.5"/>
<line x1="55.60" y1="267.56" x2="55.60" y2="271.19" stroke="#1c1c1c" stroke-width="1.0"/>
<line x1="53.50" y1="267.56" x2="57.70" y2="267.56" stroke="#1c1c1c" stroke-width="1.3"/>
<rect x="51.40" y="271.19" width="8.40" height="23.71" fill="#2D4681" stroke="#1d2f5a" stroke-width="0.5"/>
<circle cx="53.80" cy="263.36" r="1.0" fill="#1c1c1c"/>
<circle cx="57.40" cy="263.36" r="1.0" fill="#1c1c1c"/>
<line x1="74.30" y1="255.84" x2="74.30" y2="259.37" stroke="#1c1c1c" stroke-width="1.0"/>
<line x1="72.20" y1="255.84" x2="76.40" y2="255.84" stroke="#1c1c1c" stroke-width="1.3"/>
<rect x="69.90" y="259.37" width="8.80" height="35.53" fill="#A9062E" stroke="#7d0420" stroke-width="0.5"/>
<line x1="85.25" y1="243.19" x2="85.25" y2="247.47" stroke="#1c1c1c" stroke-width="1.0"/>
<line x1="83.15" y1="243.19" x2="87.35" y2="243.19" stroke="#1c1c1c" stroke-width="1.3"/>
<rect x="81.00" y="247.47" width="8.50" height="47.43" fill="#2D4681" stroke="#1d2f5a" stroke-width="0.5"/>
<circle cx="83.45" cy="238.99" r="1.0" fill="#1c1c1c"/>
<circle cx="87.05" cy="238.99" r="1.0" fill="#1c1c1c"/>
<line x1="104.10" y1="277.51" x2="104.10" y2="279.37" stroke="#1c1c1c" stroke-width="1.0"/>
<line x1="102.00" y1="277.51" x2="106.20" y2="277.51" stroke="#1c1c1c" stroke-width="1.3"/>
<rect x="100.00" y="279.37" width="8.20" height="15.53" fill="#A9062E" stroke="#7d0420" stroke-width="0.5"/>
<line x1="115.10" y1="269.42" x2="115.10" y2="272.67" stroke="#1c1c1c" stroke-width="1.0"/>
<line x1="113.00" y1="269.42" x2="117.20" y2="269.42" stroke="#1c1c1c" stroke-width="1.3"/>
<rect x="110.90" y="272.67" width="8.40" height="22.23" fill="#2D4681" stroke="#1d2f5a" stroke-width="0.5"/>
<circle cx="113.30" cy="265.22" r="1.0" fill="#1c1c1c"/>
<circle cx="116.90" cy="265.22" r="1.0" fill="#1c1c1c"/>
<line x1="49.95" y1="294.90" x2="49.95" y2="297.10" stroke="#1c1c1c" stroke-width="1.1"/>
<text x="49.50" y="308.20" font-size="8.5" fill="#1c1c1c" text-anchor="middle" stroke="#1c1c1c" stroke-width="0.12" textLength="11.34" lengthAdjust="spacingAndGlyphs">G0</text>
<line x1="79.70" y1="294.90" x2="79.70" y2="297.10" stroke="#1c1c1c" stroke-width="1.1"/>
<text x="79.40" y="308.20" font-size="8.5" fill="#1c1c1c" text-anchor="middle" stroke="#1c1c1c" stroke-width="0.12" textLength="11.34" lengthAdjust="spacingAndGlyphs">G1</text>
<line x1="109.65" y1="294.90" x2="109.65" y2="297.10" stroke="#1c1c1c" stroke-width="1.1"/>
<text x="108.20" y="308.20" font-size="8.5" fill="#1c1c1c" text-anchor="middle" stroke="#1c1c1c" stroke-width="0.12" textLength="28.4" lengthAdjust="spacingAndGlyphs">S/G2/M</text>
<text x="79.55" y="211.80" font-size="9.6" fill="#1c1c1c" text-anchor="middle" textLength="19.8" lengthAdjust="spacingAndGlyphs">MPP</text>
<text x="14.40" y="255.40" font-size="8.2" fill="#1c1c1c" text-anchor="middle" stroke="#1c1c1c" stroke-width="0.12" textLength="45.2" lengthAdjust="spacingAndGlyphs" transform="rotate(-90 14.40 255.40)">Frequency(%)</text>
<rect x="81.00" y="219.30" width="10.00" height="6.10" fill="#A9062E"/>
<rect x="81.00" y="228.40" width="10.00" height="6.10" fill="#2D4681"/>
<text x="93.00" y="224.70" font-size="8.58" fill="#1c1c1c" stroke="#1c1c1c" stroke-width="0.12" textLength="10.3" lengthAdjust="spacingAndGlyphs">WT</text>
<g transform="translate(93.00,233.20)"><text x="0.00" y="0" font-size="8.58" textLength="20.4" lengthAdjust="spacingAndGlyphs" fill="#1c1c1c" stroke="#1c1c1c" stroke-width="0.12">SRC-3</text><text x="20.80" y="-2.96" font-size="5.15" fill="#1c1c1c" textLength="4.42" lengthAdjust="spacingAndGlyphs">-/-</text></g>
<text x="142.00" y="184.90" font-size="11.2" fill="#1c1c1c" font-weight="bold">E</text>
<text x="199.65" y="191.10" font-size="10.0" fill="#1c1c1c" text-anchor="middle" textLength="30.2" lengthAdjust="spacingAndGlyphs">LT-HSC</text>
<text x="267.50" y="191.10" font-size="10.0" fill="#1c1c1c" text-anchor="middle" textLength="31.5" lengthAdjust="spacingAndGlyphs">ST-HSC</text>
<text x="328.40" y="191.10" font-size="10.0" fill="#1c1c1c" text-anchor="middle" textLength="19.8" lengthAdjust="spacingAndGlyphs">MPP</text>
<rect x="171.50" y="194.20" width="58.70" height="58.00" fill="none" stroke="#8a8a8a" stroke-width="0.9"/>
<line x1="177.50" y1="252.20" x2="177.50" y2="253.40" stroke="#777" stroke-width="0.6"/>
<line x1="171.50" y1="200.20" x2="170.30" y2="200.20" stroke="#777" stroke-width="0.6"/>
<line x1="189.00" y1="252.20" x2="189.00" y2="253.40" stroke="#777" stroke-width="0.6"/>
<line x1="171.50" y1="211.70" x2="170.30" y2="211.70" stroke="#777" stroke-width="0.6"/>
<line x1="200.50" y1="252.20" x2="200.50" y2="253.40" stroke="#777" stroke-width="0.6"/>
<line x1="171.50" y1="223.20" x2="170.30" y2="223.20" stroke="#777" stroke-width="0.6"/>
<line x1="212.00" y1="252.20" x2="212.00" y2="253.40" stroke="#777" stroke-width="0.6"/>
<line x1="171.50" y1="234.70" x2="170.30" y2="234.70" stroke="#777" stroke-width="0.6"/>
<line x1="223.50" y1="252.20" x2="223.50" y2="253.40" stroke="#777" stroke-width="0.6"/>
<line x1="171.50" y1="246.20" x2="170.30" y2="246.20" stroke="#777" stroke-width="0.6"/>
<rect x="191.90" y="226.70" width="33.10" height="25.50" fill="none" stroke="#666" stroke-width="1"/>
<g transform="translate(207.40,234.40)"><text x="0.00" y="0" font-size="7.20" textLength="13" lengthAdjust="spacingAndGlyphs" fill="#1c1c1c" stroke="#1c1c1c" stroke-width="0.12">Brdu</text><text x="13.40" y="-2.74" font-size="4.50" fill="#1c1c1c" textLength="2.63" lengthAdjust="spacingAndGlyphs">+</text></g>
<text x="207.70" y="242.20" font-size="7.3" fill="#1c1c1c" stroke="#1c1c1c" stroke-width="0.12" textLength="11.8" lengthAdjust="spacingAndGlyphs">5.36</text>
<g filter="url(#blur1)"><ellipse cx="183.3" cy="239.79999999999998" rx="7.8" ry="7.6" fill="#c8c8c8"/><ellipse cx="183.3" cy="239.79999999999998" rx="6.0" ry="6.0" fill="none" stroke="#999" stroke-width="1"/><ellipse cx="183.3" cy="239.79999999999998" rx="4.2" ry="4.5" fill="#bababa" stroke="#8a8a8a" stroke-width="1.1"/><ellipse cx="183.3" cy="239.79999999999998" rx="2.2" ry="2.7" fill="none" stroke="#8c8c8c" stroke-width="0.9"/><ellipse cx="183.3" cy="239.79999999999998" rx="0.8" ry="1.2" fill="#e0e0e0"/><circle cx="198.8" cy="239.79999999999998" r="2.2" fill="#d6d6d6"/><circle cx="198.8" cy="239.79999999999998" r="1.43" fill="none" stroke="#aaa" stroke-width="1.1"/><circle cx="198.8" cy="239.79999999999998" r="0.66" fill="#e8e8e8"/></g>
<rect x="236.30" y="194.20" width="58.70" height="58.00" fill="none" stroke="#8a8a8a" stroke-width="0.9"/>
<line x1="242.30" y1="252.20" x2="242.30" y2="253.40" stroke="#777" stroke-width="0.6"/>
<line x1="236.30" y1="200.20" x2="235.10" y2="200.20" stroke="#777" stroke-width="0.6"/>
<line x1="253.80" y1="252.20" x2="253.80" y2="253.40" stroke="#777" stroke-width="0.6"/>
<line x1="236.30" y1="211.70" x2="235.10" y2="211.70" stroke="#777" stroke-width="0.6"/>
<line x1="265.30" y1="252.20" x2="265.30" y2="253.40" stroke="#777" stroke-width="0.6"/>
<line x1="236.30" y1="223.20" x2="235.10" y2="223.20" stroke="#777" stroke-width="0.6"/>
<line x1="276.80" y1="252.20" x2="276.80" y2="253.40" stroke="#777" stroke-width="0.6"/>
<line x1="236.30" y1="234.70" x2="235.10" y2="234.70" stroke="#777" stroke-width="0.6"/>
<line x1="288.30" y1="252.20" x2="288.30" y2="253.40" stroke="#777" stroke-width="0.6"/>
<line x1="236.30" y1="246.20" x2="235.10" y2="246.20" stroke="#777" stroke-width="0.6"/>
<rect x="256.70" y="226.70" width="33.10" height="25.50" fill="none" stroke="#666" stroke-width="1"/>
<g transform="translate(272.20,234.40)"><text x="0.00" y="0" font-size="7.20" textLength="13" lengthAdjust="spacingAndGlyphs" fill="#1c1c1c" stroke="#1c1c1c" stroke-width="0.12">Brdu</text><text x="13.40" y="-2.74" font-size="4.50" fill="#1c1c1c" textLength="2.63" lengthAdjust="spacingAndGlyphs">+</text></g>
<text x="272.50" y="242.20" font-size="7.3" fill="#1c1c1c" stroke="#1c1c1c" stroke-width="0.12" textLength="11.8" lengthAdjust="spacingAndGlyphs">12.5</text>
<g filter="url(#blur1)"><ellipse cx="249.0" cy="239.79999999999998" rx="7.8" ry="7.6" fill="#c8c8c8"/><ellipse cx="249.0" cy="239.79999999999998" rx="6.0" ry="6.0" fill="none" stroke="#999" stroke-width="1"/><ellipse cx="249.0" cy="239.79999999999998" rx="4.2" ry="4.5" fill="#bababa" stroke="#7e7e7e" stroke-width="1.1"/><ellipse cx="249.0" cy="239.79999999999998" rx="2.2" ry="2.7" fill="none" stroke="#8c8c8c" stroke-width="0.9"/><ellipse cx="249.0" cy="239.79999999999998" rx="0.8" ry="1.2" fill="#e0e0e0"/><circle cx="264.2" cy="239.79999999999998" r="5.2" fill="#d6d6d6"/><circle cx="264.2" cy="239.79999999999998" r="3.38" fill="none" stroke="#bbb" stroke-width="1.1"/><circle cx="264.2" cy="239.79999999999998" r="1.56" fill="#e8e8e8"/></g>
<rect x="300.50" y="194.20" width="58.50" height="58.00" fill="none" stroke="#8a8a8a" stroke-width="0.9"/>
<line x1="306.50" y1="252.20" x2="306.50" y2="253.40" stroke="#777" stroke-width="0.6"/>
<line x1="300.50" y1="200.20" x2="299.30" y2="200.20" stroke="#777" stroke-width="0.6"/>
<line x1="318.00" y1="252.20" x2="318.00" y2="253.40" stroke="#777" stroke-width="0.6"/>
<line x1="300.50" y1="211.70" x2="299.30" y2="211.70" stroke="#777" stroke-width="0.6"/>
<line x1="329.50" y1="252.20" x2="329.50" y2="253.40" stroke="#777" stroke-width="0.6"/>
<line x1="300.50" y1="223.20" x2="299.30" y2="223.20" stroke="#777" stroke-width="0.6"/>
<line x1="341.00" y1="252.20" x2="341.00" y2="253.40" stroke="#777" stroke-width="0.6"/>
<line x1="300.50" y1="234.70" x2="299.30" y2="234.70" stroke="#777" stroke-width="0.6"/>
<line x1="352.50" y1="252.20" x2="352.50" y2="253.40" stroke="#777" stroke-width="0.6"/>
<line x1="300.50" y1="246.20" x2="299.30" y2="246.20" stroke="#777" stroke-width="0.6"/>
<rect x="320.90" y="226.70" width="33.10" height="25.50" fill="none" stroke="#666" stroke-width="1"/>
<g transform="translate(336.40,234.40)"><text x="0.00" y="0" font-size="7.20" textLength="13" lengthAdjust="spacingAndGlyphs" fill="#1c1c1c" stroke="#1c1c1c" stroke-width="0.12">Brdu</text><text x="13.40" y="-2.74" font-size="4.50" fill="#1c1c1c" textLength="2.63" lengthAdjust="spacingAndGlyphs">+</text></g>
<text x="336.70" y="242.20" font-size="7.3" fill="#1c1c1c" stroke="#1c1c1c" stroke-width="0.12" textLength="11.8" lengthAdjust="spacingAndGlyphs">19.9</text>
<g filter="url(#blur1)"><ellipse cx="313.5" cy="239.79999999999998" rx="7.8" ry="7.6" fill="#c8c8c8"/><ellipse cx="313.5" cy="239.79999999999998" rx="6.0" ry="6.0" fill="none" stroke="#999" stroke-width="1"/><ellipse cx="313.5" cy="239.79999999999998" rx="4.2" ry="4.5" fill="#bababa" stroke="#777" stroke-width="1.1"/><ellipse cx="313.5" cy="239.79999999999998" rx="2.2" ry="2.7" fill="none" stroke="#8c8c8c" stroke-width="0.9"/><ellipse cx="313.5" cy="239.79999999999998" rx="0.8" ry="1.2" fill="#e0e0e0"/><circle cx="328.0" cy="239.79999999999998" r="5.5" fill="#d6d6d6"/><circle cx="328.0" cy="239.79999999999998" r="3.58" fill="none" stroke="#999" stroke-width="1.1"/><circle cx="328.0" cy="239.79999999999998" r="1.65" fill="#e8e8e8"/></g>
<rect x="171.50" y="257.50" width="58.70" height="58.50" fill="none" stroke="#8a8a8a" stroke-width="0.9"/>
<line x1="177.50" y1="316.00" x2="177.50" y2="317.20" stroke="#777" stroke-width="0.6"/>
<line x1="171.50" y1="263.50" x2="170.30" y2="263.50" stroke="#777" stroke-width="0.6"/>
<line x1="189.00" y1="316.00" x2="189.00" y2="317.20" stroke="#777" stroke-width="0.6"/>
<line x1="171.50" y1="275.00" x2="170.30" y2="275.00" stroke="#777" stroke-width="0.6"/>
<line x1="200.50" y1="316.00" x2="200.50" y2="317.20" stroke="#777" stroke-width="0.6"/>
<line x1="171.50" y1="286.50" x2="170.30" y2="286.50" stroke="#777" stroke-width="0.6"/>
<line x1="212.00" y1="316.00" x2="212.00" y2="317.20" stroke="#777" stroke-width="0.6"/>
<line x1="171.50" y1="298.00" x2="170.30" y2="298.00" stroke="#777" stroke-width="0.6"/>
<line x1="223.50" y1="316.00" x2="223.50" y2="317.20" stroke="#777" stroke-width="0.6"/>
<line x1="171.50" y1="309.50" x2="170.30" y2="309.50" stroke="#777" stroke-width="0.6"/>
<rect x="191.90" y="290.00" width="33.10" height="26.00" fill="none" stroke="#666" stroke-width="1"/>
<g transform="translate(207.40,297.70)"><text x="0.00" y="0" font-size="7.20" textLength="13" lengthAdjust="spacingAndGlyphs" fill="#1c1c1c" stroke="#1c1c1c" stroke-width="0.12">Brdu</text><text x="13.40" y="-2.74" font-size="4.50" fill="#1c1c1c" textLength="2.63" lengthAdjust="spacingAndGlyphs">+</text></g>
<text x="207.70" y="305.50" font-size="7.3" fill="#1c1c1c" stroke="#1c1c1c" stroke-width="0.12" textLength="11.8" lengthAdjust="spacingAndGlyphs">13.9</text>
<g filter="url(#blur1)"><ellipse cx="184.5" cy="303.1" rx="7.8" ry="7.6" fill="#c8c8c8"/><ellipse cx="184.5" cy="303.1" rx="6.0" ry="6.0" fill="none" stroke="#999" stroke-width="1"/><ellipse cx="184.5" cy="303.1" rx="4.2" ry="4.5" fill="#bababa" stroke="#7e7e7e" stroke-width="1.1"/><ellipse cx="184.5" cy="303.1" rx="2.2" ry="2.7" fill="none" stroke="#8c8c8c" stroke-width="0.9"/><ellipse cx="184.5" cy="303.1" rx="0.8" ry="1.2" fill="#e0e0e0"/><circle cx="197.1" cy="303.1" r="5.0" fill="#d6d6d6"/><circle cx="197.1" cy="303.1" r="3.25" fill="none" stroke="#999" stroke-width="1.1"/><circle cx="197.1" cy="303.1" r="1.50" fill="#e8e8e8"/></g>
<rect x="236.30" y="257.50" width="58.70" height="58.50" fill="none" stroke="#8a8a8a" stroke-width="0.9"/>
<line x1="242.30" y1="316.00" x2="242.30" y2="317.20" stroke="#777" stroke-width="0.6"/>
<line x1="236.30" y1="263.50" x2="235.10" y2="263.50" stroke="#777" stroke-width="0.6"/>
<line x1="253.80" y1="316.00" x2="253.80" y2="317.20" stroke="#777" stroke-width="0.6"/>
<line x1="236.30" y1="275.00" x2="235.10" y2="275.00" stroke="#777" stroke-width="0.6"/>
<line x1="265.30" y1="316.00" x2="265.30" y2="317.20" stroke="#777" stroke-width="0.6"/>
<line x1="236.30" y1="286.50" x2="235.10" y2="286.50" stroke="#777" stroke-width="0.6"/>
<line x1="276.80" y1="316.00" x2="276.80" y2="317.20" stroke="#777" stroke-width="0.6"/>
<line x1="236.30" y1="298.00" x2="235.10" y2="298.00" stroke="#777" stroke-width="0.6"/>
<line x1="288.30" y1="316.00" x2="288.30" y2="317.20" stroke="#777" stroke-width="0.6"/>
<line x1="236.30" y1="309.50" x2="235.10" y2="309.50" stroke="#777" stroke-width="0.6"/>
<rect x="256.70" y="290.00" width="33.10" height="26.00" fill="none" stroke="#666" stroke-width="1"/>
<g transform="translate(272.20,297.70)"><text x="0.00" y="0" font-size="7.20" textLength="13" lengthAdjust="spacingAndGlyphs" fill="#1c1c1c" stroke="#1c1c1c" stroke-width="0.12">Brdu</text><text x="13.40" y="-2.74" font-size="4.50" fill="#1c1c1c" textLength="2.63" lengthAdjust="spacingAndGlyphs">+</text></g>
<text x="272.50" y="305.50" font-size="7.3" fill="#1c1c1c" stroke="#1c1c1c" stroke-width="0.12" textLength="11.8" lengthAdjust="spacingAndGlyphs">22.4</text>
<g filter="url(#blur1)"><ellipse cx="248.8" cy="303.1" rx="7.8" ry="7.6" fill="#c8c8c8"/><ellipse cx="248.8" cy="303.1" rx="6.0" ry="6.0" fill="none" stroke="#999" stroke-width="1"/><ellipse cx="248.8" cy="303.1" rx="4.2" ry="4.5" fill="#bababa" stroke="#747474" stroke-width="1.1"/><ellipse cx="248.8" cy="303.1" rx="2.2" ry="2.7" fill="none" stroke="#8c8c8c" stroke-width="0.9"/><ellipse cx="248.8" cy="303.1" rx="0.8" ry="1.2" fill="#e0e0e0"/><circle cx="262.8" cy="303.1" r="5.4" fill="#d6d6d6"/><circle cx="262.8" cy="303.1" r="3.51" fill="none" stroke="#aaa" stroke-width="1.1"/><circle cx="262.8" cy="303.1" r="1.62" fill="#e8e8e8"/></g>
<rect x="300.50" y="257.50" width="58.50" height="58.50" fill="none" stroke="#8a8a8a" stroke-width="0.9"/>
<line x1="306.50" y1="316.00" x2="306.50" y2="317.20" stroke="#777" stroke-width="0.6"/>
<line x1="300.50" y1="263.50" x2="299.30" y2="263.50" stroke="#777" stroke-width="0.6"/>
<line x1="318.00" y1="316.00" x2="318.00" y2="317.20" stroke="#777" stroke-width="0.6"/>
<line x1="300.50" y1="275.00" x2="299.30" y2="275.00" stroke="#777" stroke-width="0.6"/>
<line x1="329.50" y1="316.00" x2="329.50" y2="317.20" stroke="#777" stroke-width="0.6"/>
<line x1="300.50" y1="286.50" x2="299.30" y2="286.50" stroke="#777" stroke-width="0.6"/>
<line x1="341.00" y1="316.00" x2="341.00" y2="317.20" stroke="#777" stroke-width="0.6"/>
<line x1="300.50" y1="298.00" x2="299.30" y2="298.00" stroke="#777" stroke-width="0.6"/>
<line x1="352.50" y1="316.00" x2="352.50" y2="317.20" stroke="#777" stroke-width="0.6"/>
<line x1="300.50" y1="309.50" x2="299.30" y2="309.50" stroke="#777" stroke-width="0.6"/>
<rect x="320.90" y="290.00" width="33.10" height="26.00" fill="none" stroke="#666" stroke-width="1"/>
<g transform="translate(336.40,297.70)"><text x="0.00" y="0" font-size="7.20" textLength="13" lengthAdjust="spacingAndGlyphs" fill="#1c1c1c" stroke="#1c1c1c" stroke-width="0.12">Brdu</text><text x="13.40" y="-2.74" font-size="4.50" fill="#1c1c1c" textLength="2.63" lengthAdjust="spacingAndGlyphs">+</text></g>
<text x="336.70" y="305.50" font-size="7.3" fill="#1c1c1c" stroke="#1c1c1c" stroke-width="0.12" textLength="11.8" lengthAdjust="spacingAndGlyphs">32.6</text>
<g filter="url(#blur1)"><ellipse cx="314.1" cy="303.1" rx="7.8" ry="7.6" fill="#c8c8c8"/><ellipse cx="314.1" cy="303.1" rx="6.0" ry="6.0" fill="none" stroke="#999" stroke-width="1"/><ellipse cx="314.1" cy="303.1" rx="4.2" ry="4.5" fill="#bababa" stroke="#555" stroke-width="1.1"/><ellipse cx="314.1" cy="303.1" rx="2.2" ry="2.7" fill="none" stroke="#8c8c8c" stroke-width="0.9"/><ellipse cx="314.1" cy="303.1" rx="0.8" ry="1.2" fill="#e0e0e0"/><ellipse cx="327.5" cy="303.1" rx="5.8" ry="5" fill="#cdcdcd"/><path d="M331.0,300.5 L327.0,300.5 A2.6,2.6 0 1 0 327.0,305.70000000000005 L331.0,305.70000000000005" fill="none" stroke="#8a8a8a" stroke-width="1.4"/></g>
<line x1="167.20" y1="199.00" x2="167.20" y2="316.00" stroke="#1c1c1c" stroke-width="1.4"/>
<path d="M165.00,200.00 L167.20,194.50 L169.40,200.00 Z" fill="#1c1c1c"/>
<line x1="172.00" y1="320.80" x2="354.50" y2="320.80" stroke="#1c1c1c" stroke-width="1.4"/>
<path d="M353.50,318.60 L359.00,320.80 L353.50,323.00 Z" fill="#1c1c1c"/>
<text x="150.60" y="225.30" font-size="10.0" fill="#1c1c1c" text-anchor="middle" textLength="14.6" lengthAdjust="spacingAndGlyphs" transform="rotate(-90 150.60 225.30)">WT</text>
<g transform="translate(151.30,303.00) rotate(-90)"><text x="0.00" y="0" font-size="10.00" textLength="25.3" lengthAdjust="spacingAndGlyphs" fill="#1c1c1c">SRC-3</text><text x="25.70" y="-3.80" font-size="6.50" fill="#1c1c1c" textLength="8" lengthAdjust="spacingAndGlyphs">-/-</text></g>
<text x="160.60" y="257.30" font-size="8.2" fill="#1c1c1c" text-anchor="middle" stroke="#1c1c1c" stroke-width="0.12" textLength="25.4" lengthAdjust="spacingAndGlyphs" transform="rotate(-90 160.60 257.30)">Lineage</text>
<text x="263.50" y="332.20" font-size="8.8" fill="#1c1c1c" text-anchor="middle" stroke="#1c1c1c" stroke-width="0.12" textLength="14.8" lengthAdjust="spacingAndGlyphs">Brdu</text>
<text x="374.60" y="185.10" font-size="11.2" fill="#1c1c1c" font-weight="bold">F</text>
<line x1="405.30" y1="211.50" x2="405.30" y2="295.60" stroke="#1c1c1c" stroke-width="1.3"/>
<line x1="404.65" y1="295.00" x2="504.70" y2="295.00" stroke="#1c1c1c" stroke-width="1.3"/>
<line x1="402.30" y1="295.00" x2="405.30" y2="295.00" stroke="#1c1c1c" stroke-width="1.1"/>
<text x="399.50" y="297.65" font-size="7.9" fill="#1c1c1c" text-anchor="end" stroke="#1c1c1c" stroke-width="0.12" textLength="4.39" lengthAdjust="spacingAndGlyphs">0</text>
<line x1="402.30" y1="274.60" x2="405.30" y2="274.60" stroke="#1c1c1c" stroke-width="1.1"/>
<text x="399.50" y="277.25" font-size="7.9" fill="#1c1c1c" text-anchor="end" stroke="#1c1c1c" stroke-width="0.12" textLength="8.79" lengthAdjust="spacingAndGlyphs">10</text>
<line x1="402.30" y1="254.20" x2="405.30" y2="254.20" stroke="#1c1c1c" stroke-width="1.1"/>
<text x="399.50" y="256.85" font-size="7.9" fill="#1c1c1c" text-anchor="end" stroke="#1c1c1c" stroke-width="0.12" textLength="8.79" lengthAdjust="spacingAndGlyphs">20</text>
<line x1="402.30" y1="233.80" x2="405.30" y2="233.80" stroke="#1c1c1c" stroke-width="1.1"/>
<text x="399.50" y="236.45" font-size="7.9" fill="#1c1c1c" text-anchor="end" stroke="#1c1c1c" stroke-width="0.12" textLength="8.79" lengthAdjust="spacingAndGlyphs">30</text>
<line x1="402.30" y1="213.40" x2="405.30" y2="213.40" stroke="#1c1c1c" stroke-width="1.1"/>
<text x="399.50" y="216.05" font-size="7.9" fill="#1c1c1c" text-anchor="end" stroke="#1c1c1c" stroke-width="0.12" textLength="8.79" lengthAdjust="spacingAndGlyphs">40</text>
<line x1="422.20" y1="295.00" x2="422.20" y2="297.50" stroke="#1c1c1c" stroke-width="1.1"/>
<line x1="455.40" y1="295.00" x2="455.40" y2="297.50" stroke="#1c1c1c" stroke-width="1.1"/>
<line x1="487.40" y1="295.00" x2="487.40" y2="297.50" stroke="#1c1c1c" stroke-width="1.1"/>
<text x="422.40" y="308.30" font-size="8.0" fill="#1c1c1c" text-anchor="middle" stroke="#1c1c1c" stroke-width="0.12" textLength="25.6" lengthAdjust="spacingAndGlyphs">LT-HSC</text>
<text x="454.50" y="308.30" font-size="8.0" fill="#1c1c1c" text-anchor="middle" stroke="#1c1c1c" stroke-width="0.12" textLength="26.1" lengthAdjust="spacingAndGlyphs">ST-HSC</text>
<text x="487.60" y="308.30" font-size="8.0" fill="#1c1c1c" text-anchor="middle" stroke="#1c1c1c" stroke-width="0.12" textLength="17.3" lengthAdjust="spacingAndGlyphs">MPP</text>
<g transform="translate(385.60,266.80) rotate(-90)"><text x="0.00" y="0" font-size="9.00" textLength="13.8" lengthAdjust="spacingAndGlyphs" fill="#1c1c1c" stroke="#1c1c1c" stroke-width="0.12">Brdu</text><text x="14.20" y="-3.42" font-size="6.00" fill="#1c1c1c" textLength="3.5" lengthAdjust="spacingAndGlyphs">+</text></g>
<text x="385.90" y="244.00" font-size="8.5" fill="#1c1c1c" stroke="#1c1c1c" stroke-width="0.12" textLength="6.8" lengthAdjust="spacingAndGlyphs" transform="rotate(-90 385.90 244.00)">%</text>
<line x1="411.70" y1="283.50" x2="420.10" y2="283.50" stroke="#A9062E" stroke-width="1.1"/>
<line x1="415.90" y1="280.43" x2="415.90" y2="286.57" stroke="#A9062E" stroke-width="1"/>
<line x1="413.90" y1="280.43" x2="417.90" y2="280.43" stroke="#A9062E" stroke-width="1"/>
<line x1="413.90" y1="286.57" x2="417.90" y2="286.57" stroke="#A9062E" stroke-width="1"/>
<circle cx="416.40" cy="279.00" r="1.55" fill="#A9062E"/>
<circle cx="413.70" cy="280.50" r="1.55" fill="#A9062E"/>
<circle cx="418.20" cy="282.50" r="1.55" fill="#A9062E"/>
<circle cx="414.40" cy="284.00" r="1.55" fill="#A9062E"/>
<circle cx="417.70" cy="285.50" r="1.55" fill="#A9062E"/>
<circle cx="413.40" cy="287.00" r="1.55" fill="#A9062E"/>
<circle cx="415.90" cy="288.60" r="1.55" fill="#A9062E"/>
<line x1="425.40" y1="268.50" x2="433.80" y2="268.50" stroke="#2D4681" stroke-width="1.1"/>
<line x1="429.60" y1="263.38" x2="429.60" y2="273.62" stroke="#2D4681" stroke-width="1"/>
<line x1="427.60" y1="263.38" x2="431.60" y2="263.38" stroke="#2D4681" stroke-width="1"/>
<line x1="427.60" y1="273.62" x2="431.60" y2="273.62" stroke="#2D4681" stroke-width="1"/>
<rect x="428.65" y="260.55" width="2.9" height="2.9" fill="#2D4681"/>
<rect x="425.95" y="262.55" width="2.9" height="2.9" fill="#2D4681"/>
<rect x="430.45" y="264.55" width="2.9" height="2.9" fill="#2D4681"/>
<rect x="426.65" y="266.55" width="2.9" height="2.9" fill="#2D4681"/>
<rect x="429.95" y="268.55" width="2.9" height="2.9" fill="#2D4681"/>
<rect x="425.65" y="271.55" width="2.9" height="2.9" fill="#2D4681"/>
<rect x="428.15" y="276.55" width="2.9" height="2.9" fill="#2D4681"/>
<line x1="444.50" y1="268.00" x2="452.90" y2="268.00" stroke="#A9062E" stroke-width="1.1"/>
<line x1="448.70" y1="262.88" x2="448.70" y2="273.12" stroke="#A9062E" stroke-width="1"/>
<line x1="446.70" y1="262.88" x2="450.70" y2="262.88" stroke="#A9062E" stroke-width="1"/>
<line x1="446.70" y1="273.12" x2="450.70" y2="273.12" stroke="#A9062E" stroke-width="1"/>
<circle cx="449.20" cy="261.00" r="1.55" fill="#A9062E"/>
<circle cx="446.50" cy="263.50" r="1.55" fill="#A9062E"/>
<circle cx="451.00" cy="266.00" r="1.55" fill="#A9062E"/>
<circle cx="447.20" cy="268.50" r="1.55" fill="#A9062E"/>
<circle cx="450.50" cy="271.00" r="1.55" fill="#A9062E"/>
<circle cx="446.20" cy="274.00" r="1.55" fill="#A9062E"/>
<circle cx="448.70" cy="277.00" r="1.55" fill="#A9062E"/>
<line x1="457.10" y1="248.50" x2="465.50" y2="248.50" stroke="#2D4681" stroke-width="1.1"/>
<line x1="461.30" y1="241.72" x2="461.30" y2="255.28" stroke="#2D4681" stroke-width="1"/>
<line x1="459.30" y1="241.72" x2="463.30" y2="241.72" stroke="#2D4681" stroke-width="1"/>
<line x1="459.30" y1="255.28" x2="463.30" y2="255.28" stroke="#2D4681" stroke-width="1"/>
<rect x="460.35" y="236.35" width="2.9" height="2.9" fill="#2D4681"/>
<rect x="457.65" y="241.55" width="2.9" height="2.9" fill="#2D4681"/>
<rect x="462.15" y="244.55" width="2.9" height="2.9" fill="#2D4681"/>
<rect x="458.35" y="247.05" width="2.9" height="2.9" fill="#2D4681"/>
<rect x="461.65" y="249.05" width="2.9" height="2.9" fill="#2D4681"/>
<rect x="457.35" y="251.55" width="2.9" height="2.9" fill="#2D4681"/>
<rect x="459.85" y="257.55" width="2.9" height="2.9" fill="#2D4681"/>
<line x1="477.20" y1="255.00" x2="485.60" y2="255.00" stroke="#A9062E" stroke-width="1.1"/>
<line x1="481.40" y1="249.40" x2="481.40" y2="260.60" stroke="#A9062E" stroke-width="1"/>
<line x1="479.40" y1="249.40" x2="483.40" y2="249.40" stroke="#A9062E" stroke-width="1"/>
<line x1="479.40" y1="260.60" x2="483.40" y2="260.60" stroke="#A9062E" stroke-width="1"/>
<circle cx="481.90" cy="246.30" r="1.55" fill="#A9062E"/>
<circle cx="479.20" cy="250.50" r="1.55" fill="#A9062E"/>
<circle cx="483.70" cy="253.00" r="1.55" fill="#A9062E"/>
<circle cx="479.90" cy="255.00" r="1.55" fill="#A9062E"/>
<circle cx="483.20" cy="257.00" r="1.55" fill="#A9062E"/>
<circle cx="478.90" cy="259.50" r="1.55" fill="#A9062E"/>
<circle cx="481.40" cy="263.80" r="1.55" fill="#A9062E"/>
<line x1="489.30" y1="229.00" x2="497.70" y2="229.00" stroke="#2D4681" stroke-width="1.1"/>
<line x1="493.50" y1="221.22" x2="493.50" y2="236.78" stroke="#2D4681" stroke-width="1"/>
<line x1="491.50" y1="221.22" x2="495.50" y2="221.22" stroke="#2D4681" stroke-width="1"/>
<line x1="491.50" y1="236.78" x2="495.50" y2="236.78" stroke="#2D4681" stroke-width="1"/>
<rect x="492.55" y="216.25" width="2.9" height="2.9" fill="#2D4681"/>
<rect x="489.85" y="220.55" width="2.9" height="2.9" fill="#2D4681"/>
<rect x="494.35" y="224.55" width="2.9" height="2.9" fill="#2D4681"/>
<rect x="490.55" y="227.55" width="2.9" height="2.9" fill="#2D4681"/>
<rect x="493.85" y="230.55" width="2.9" height="2.9" fill="#2D4681"/>
<rect x="489.55" y="235.55" width="2.9" height="2.9" fill="#2D4681"/>
<rect x="492.05" y="240.55" width="2.9" height="2.9" fill="#2D4681"/>
<circle cx="427.80" cy="256.80" r="1.0" fill="#1c1c1c"/>
<circle cx="431.40" cy="256.80" r="1.0" fill="#1c1c1c"/>
<circle cx="459.50" cy="232.00" r="1.0" fill="#1c1c1c"/>
<circle cx="463.10" cy="232.00" r="1.0" fill="#1c1c1c"/>
<circle cx="491.70" cy="212.40" r="1.0" fill="#1c1c1c"/>
<circle cx="495.30" cy="212.40" r="1.0" fill="#1c1c1c"/>
<circle cx="414.4" cy="216.2" r="1.75" fill="#A9062E"/>
<text x="419.00" y="218.40" font-size="7.8" fill="#1c1c1c" stroke="#1c1c1c" stroke-width="0.12" textLength="10.5" lengthAdjust="spacingAndGlyphs">WT</text>
<rect x="412.9" y="224.7" width="3" height="3" fill="#2D4681"/>
<g transform="translate(419.00,229.00)"><text x="0.00" y="0" font-size="7.80" textLength="20.4" lengthAdjust="spacingAndGlyphs" fill="#1c1c1c" stroke="#1c1c1c" stroke-width="0.12">SRC-3</text><text x="20.80" y="-2.96" font-size="4.70" fill="#1c1c1c" textLength="4.44" lengthAdjust="spacingAndGlyphs">-/-</text></g>
<text x="6.80" y="356.70" font-size="11" fill="#1c1c1c" font-weight="bold">G</text>
<line x1="37.60" y1="382.60" x2="37.60" y2="468.80" stroke="#1c1c1c" stroke-width="1.3"/>
<line x1="36.95" y1="468.20" x2="175.30" y2="468.20" stroke="#1c1c1c" stroke-width="1.3"/>
<line x1="34.60" y1="468.20" x2="37.60" y2="468.20" stroke="#1c1c1c" stroke-width="1.1"/>
<text x="31.60" y="470.85" font-size="8.1" fill="#1c1c1c" text-anchor="end" stroke="#1c1c1c" stroke-width="0.12" textLength="11.26" lengthAdjust="spacingAndGlyphs">0.0</text>
<line x1="34.60" y1="451.40" x2="37.60" y2="451.40" stroke="#1c1c1c" stroke-width="1.1"/>
<text x="31.60" y="454.05" font-size="8.1" fill="#1c1c1c" text-anchor="end" stroke="#1c1c1c" stroke-width="0.12" textLength="11.26" lengthAdjust="spacingAndGlyphs">0.5</text>
<line x1="34.60" y1="434.60" x2="37.60" y2="434.60" stroke="#1c1c1c" stroke-width="1.1"/>
<text x="31.60" y="437.25" font-size="8.1" fill="#1c1c1c" text-anchor="end" stroke="#1c1c1c" stroke-width="0.12" textLength="11.26" lengthAdjust="spacingAndGlyphs">1.0</text>
<line x1="34.60" y1="417.80" x2="37.60" y2="417.80" stroke="#1c1c1c" stroke-width="1.1"/>
<text x="31.60" y="420.45" font-size="8.1" fill="#1c1c1c" text-anchor="end" stroke="#1c1c1c" stroke-width="0.12" textLength="11.26" lengthAdjust="spacingAndGlyphs">1.5</text>
<line x1="34.60" y1="401.00" x2="37.60" y2="401.00" stroke="#1c1c1c" stroke-width="1.1"/>
<text x="31.60" y="403.65" font-size="8.1" fill="#1c1c1c" text-anchor="end" stroke="#1c1c1c" stroke-width="0.12" textLength="11.26" lengthAdjust="spacingAndGlyphs">2.0</text>
<line x1="34.60" y1="384.20" x2="37.60" y2="384.20" stroke="#1c1c1c" stroke-width="1.1"/>
<text x="31.60" y="386.85" font-size="8.1" fill="#1c1c1c" text-anchor="end" stroke="#1c1c1c" stroke-width="0.12" textLength="11.26" lengthAdjust="spacingAndGlyphs">2.5</text>
<text x="106.35" y="376.50" font-size="10.0" fill="#1c1c1c" text-anchor="middle" textLength="29.6" lengthAdjust="spacingAndGlyphs">LT-HSC</text>
<text x="15.00" y="424.70" font-size="8.4" fill="#1c1c1c" text-anchor="middle" stroke="#1c1c1c" stroke-width="0.12" textLength="40.5" lengthAdjust="spacingAndGlyphs" transform="rotate(-90 15.00 424.70)">Fold change</text>
<line x1="40.90" y1="433.26" x2="40.90" y2="434.60" stroke="#1c1c1c" stroke-width="1.0"/>
<line x1="39.20" y1="433.26" x2="42.60" y2="433.26" stroke="#1c1c1c" stroke-width="1.3"/>
<rect x="38.60" y="434.60" width="4.60" height="33.60" fill="#A9062E" stroke="#7d0420" stroke-width="0.5"/>
<line x1="46.50" y1="430.57" x2="46.50" y2="436.28" stroke="#1c1c1c" stroke-width="1.0"/>
<line x1="44.80" y1="430.57" x2="48.20" y2="430.57" stroke="#1c1c1c" stroke-width="1.3"/>
<rect x="44.20" y="436.28" width="4.60" height="31.92" fill="#2D4681" stroke="#1d2f5a" stroke-width="0.5"/>
<line x1="43.70" y1="468.20" x2="43.70" y2="470.70" stroke="#1c1c1c" stroke-width="1.1"/>
<text x="47.90" y="477.30" font-size="7.9" fill="#1c1c1c" text-anchor="end" stroke="#1c1c1c" stroke-width="0.12" textLength="13.18" lengthAdjust="spacingAndGlyphs" transform="rotate(-45 47.90 477.30)">p18</text>
<line x1="53.42" y1="430.57" x2="53.42" y2="432.92" stroke="#1c1c1c" stroke-width="1.0"/>
<line x1="51.72" y1="430.57" x2="55.12" y2="430.57" stroke="#1c1c1c" stroke-width="1.3"/>
<rect x="51.12" y="432.92" width="4.60" height="35.28" fill="#A9062E" stroke="#7d0420" stroke-width="0.5"/>
<line x1="59.02" y1="422.50" x2="59.02" y2="425.53" stroke="#1c1c1c" stroke-width="1.0"/>
<line x1="57.32" y1="422.50" x2="60.72" y2="422.50" stroke="#1c1c1c" stroke-width="1.3"/>
<rect x="56.72" y="425.53" width="4.60" height="42.67" fill="#2D4681" stroke="#1d2f5a" stroke-width="0.5"/>
<line x1="56.22" y1="468.20" x2="56.22" y2="470.70" stroke="#1c1c1c" stroke-width="1.1"/>
<text x="60.42" y="477.30" font-size="7.9" fill="#1c1c1c" text-anchor="end" stroke="#1c1c1c" stroke-width="0.12" textLength="13.18" lengthAdjust="spacingAndGlyphs" transform="rotate(-45 60.42 477.30)">p19</text>
<line x1="65.94" y1="431.91" x2="65.94" y2="433.93" stroke="#1c1c1c" stroke-width="1.0"/>
<line x1="64.24" y1="431.91" x2="67.64" y2="431.91" stroke="#1c1c1c" stroke-width="1.3"/>
<rect x="63.64" y="433.93" width="4.60" height="34.27" fill="#A9062E" stroke="#7d0420" stroke-width="0.5"/>
<line x1="71.54" y1="447.03" x2="71.54" y2="449.72" stroke="#1c1c1c" stroke-width="1.0"/>
<line x1="69.84" y1="447.03" x2="73.24" y2="447.03" stroke="#1c1c1c" stroke-width="1.3"/>
<rect x="69.24" y="449.72" width="4.60" height="18.48" fill="#2D4681" stroke="#1d2f5a" stroke-width="0.5"/>
<line x1="68.74" y1="468.20" x2="68.74" y2="470.70" stroke="#1c1c1c" stroke-width="1.1"/>
<circle cx="69.94" cy="443.03" r="0.9" fill="#1c1c1c"/>
<circle cx="73.14" cy="443.03" r="0.9" fill="#1c1c1c"/>
<text x="72.94" y="477.30" font-size="7.9" fill="#1c1c1c" text-anchor="end" stroke="#1c1c1c" stroke-width="0.12" textLength="13.18" lengthAdjust="spacingAndGlyphs" transform="rotate(-45 72.94 477.30)">p21</text>
<line x1="78.46" y1="433.59" x2="78.46" y2="434.60" stroke="#1c1c1c" stroke-width="1.0"/>
<line x1="76.76" y1="433.59" x2="80.16" y2="433.59" stroke="#1c1c1c" stroke-width="1.3"/>
<rect x="76.16" y="434.60" width="4.60" height="33.60" fill="#A9062E" stroke="#7d0420" stroke-width="0.5"/>
<line x1="84.06" y1="443.34" x2="84.06" y2="448.04" stroke="#1c1c1c" stroke-width="1.0"/>
<line x1="82.36" y1="443.34" x2="85.76" y2="443.34" stroke="#1c1c1c" stroke-width="1.3"/>
<rect x="81.76" y="448.04" width="4.60" height="20.16" fill="#2D4681" stroke="#1d2f5a" stroke-width="0.5"/>
<line x1="81.26" y1="468.20" x2="81.26" y2="470.70" stroke="#1c1c1c" stroke-width="1.1"/>
<circle cx="84.06" cy="439.34" r="0.9" fill="#1c1c1c"/>
<text x="85.46" y="477.30" font-size="7.9" fill="#1c1c1c" text-anchor="end" stroke="#1c1c1c" stroke-width="0.12" textLength="13.18" lengthAdjust="spacingAndGlyphs" transform="rotate(-45 85.46 477.30)">p27</text>
<line x1="90.98" y1="431.58" x2="90.98" y2="433.93" stroke="#1c1c1c" stroke-width="1.0"/>
<line x1="89.28" y1="431.58" x2="92.68" y2="431.58" stroke="#1c1c1c" stroke-width="1.3"/>
<rect x="88.68" y="433.93" width="4.60" height="34.27" fill="#A9062E" stroke="#7d0420" stroke-width="0.5"/>
<line x1="96.58" y1="420.15" x2="96.58" y2="425.19" stroke="#1c1c1c" stroke-width="1.0"/>
<line x1="94.88" y1="420.15" x2="98.28" y2="420.15" stroke="#1c1c1c" stroke-width="1.3"/>
<rect x="94.28" y="425.19" width="4.60" height="43.01" fill="#2D4681" stroke="#1d2f5a" stroke-width="0.5"/>
<line x1="93.78" y1="468.20" x2="93.78" y2="470.70" stroke="#1c1c1c" stroke-width="1.1"/>
<text x="97.98" y="477.30" font-size="7.9" fill="#1c1c1c" text-anchor="end" stroke="#1c1c1c" stroke-width="0.12" textLength="31.61" lengthAdjust="spacingAndGlyphs" transform="rotate(-45 97.98 477.30)">CyclinD1</text>
<line x1="103.50" y1="431.91" x2="103.50" y2="433.93" stroke="#1c1c1c" stroke-width="1.0"/>
<line x1="101.80" y1="431.91" x2="105.20" y2="431.91" stroke="#1c1c1c" stroke-width="1.3"/>
<rect x="101.20" y="433.93" width="4.60" height="34.27" fill="#A9062E" stroke="#7d0420" stroke-width="0.5"/>
<line x1="109.10" y1="432.92" x2="109.10" y2="435.61" stroke="#1c1c1c" stroke-width="1.0"/>
<line x1="107.40" y1="432.92" x2="110.80" y2="432.92" stroke="#1c1c1c" stroke-width="1.3"/>
<rect x="106.80" y="435.61" width="4.60" height="32.59" fill="#2D4681" stroke="#1d2f5a" stroke-width="0.5"/>
<line x1="106.30" y1="468.20" x2="106.30" y2="470.70" stroke="#1c1c1c" stroke-width="1.1"/>
<text x="110.50" y="477.30" font-size="7.9" fill="#1c1c1c" text-anchor="end" stroke="#1c1c1c" stroke-width="0.12" textLength="31.61" lengthAdjust="spacingAndGlyphs" transform="rotate(-45 110.50 477.30)">CyclinD2</text>
<line x1="116.02" y1="432.58" x2="116.02" y2="433.93" stroke="#1c1c1c" stroke-width="1.0"/>
<line x1="114.32" y1="432.58" x2="117.72" y2="432.58" stroke="#1c1c1c" stroke-width="1.3"/>
<rect x="113.72" y="433.93" width="4.60" height="34.27" fill="#A9062E" stroke="#7d0420" stroke-width="0.5"/>
<line x1="121.62" y1="392.94" x2="121.62" y2="399.66" stroke="#1c1c1c" stroke-width="1.0"/>
<line x1="119.92" y1="392.94" x2="123.32" y2="392.94" stroke="#1c1c1c" stroke-width="1.3"/>
<rect x="119.32" y="399.66" width="4.60" height="68.54" fill="#2D4681" stroke="#1d2f5a" stroke-width="0.5"/>
<line x1="118.82" y1="468.20" x2="118.82" y2="470.70" stroke="#1c1c1c" stroke-width="1.1"/>
<circle cx="120.02" cy="388.94" r="0.9" fill="#1c1c1c"/>
<circle cx="123.22" cy="388.94" r="0.9" fill="#1c1c1c"/>
<text x="123.02" y="477.30" font-size="7.9" fill="#1c1c1c" text-anchor="end" stroke="#1c1c1c" stroke-width="0.12" textLength="31.17" lengthAdjust="spacingAndGlyphs" transform="rotate(-45 123.02 477.30)">CyclinE1</text>
<line x1="128.54" y1="432.25" x2="128.54" y2="433.93" stroke="#1c1c1c" stroke-width="1.0"/>
<line x1="126.84" y1="432.25" x2="130.24" y2="432.25" stroke="#1c1c1c" stroke-width="1.3"/>
<rect x="126.24" y="433.93" width="4.60" height="34.27" fill="#A9062E" stroke="#7d0420" stroke-width="0.5"/>
<line x1="134.14" y1="405.70" x2="134.14" y2="409.06" stroke="#1c1c1c" stroke-width="1.0"/>
<line x1="132.44" y1="405.70" x2="135.84" y2="405.70" stroke="#1c1c1c" stroke-width="1.3"/>
<rect x="131.84" y="409.06" width="4.60" height="59.14" fill="#2D4681" stroke="#1d2f5a" stroke-width="0.5"/>
<line x1="131.34" y1="468.20" x2="131.34" y2="470.70" stroke="#1c1c1c" stroke-width="1.1"/>
<circle cx="132.54" cy="401.70" r="0.9" fill="#1c1c1c"/>
<circle cx="135.74" cy="401.70" r="0.9" fill="#1c1c1c"/>
<text x="135.54" y="477.30" font-size="7.9" fill="#1c1c1c" text-anchor="end" stroke="#1c1c1c" stroke-width="0.12" textLength="31.17" lengthAdjust="spacingAndGlyphs" transform="rotate(-45 135.54 477.30)">CyclinE2</text>
<line x1="141.06" y1="430.57" x2="141.06" y2="433.93" stroke="#1c1c1c" stroke-width="1.0"/>
<line x1="139.36" y1="430.57" x2="142.76" y2="430.57" stroke="#1c1c1c" stroke-width="1.3"/>
<rect x="138.76" y="433.93" width="4.60" height="34.27" fill="#A9062E" stroke="#7d0420" stroke-width="0.5"/>
<line x1="146.66" y1="428.89" x2="146.66" y2="431.24" stroke="#1c1c1c" stroke-width="1.0"/>
<line x1="144.96" y1="428.89" x2="148.36" y2="428.89" stroke="#1c1c1c" stroke-width="1.3"/>
<rect x="144.36" y="431.24" width="4.60" height="36.96" fill="#2D4681" stroke="#1d2f5a" stroke-width="0.5"/>
<line x1="143.86" y1="468.20" x2="143.86" y2="470.70" stroke="#1c1c1c" stroke-width="1.1"/>
<text x="148.06" y="477.30" font-size="7.9" fill="#1c1c1c" text-anchor="end" stroke="#1c1c1c" stroke-width="0.12" textLength="18.44" lengthAdjust="spacingAndGlyphs" transform="rotate(-45 148.06 477.30)">Cdk2</text>
<line x1="153.58" y1="429.90" x2="153.58" y2="432.92" stroke="#1c1c1c" stroke-width="1.0"/>
<line x1="151.88" y1="429.90" x2="155.28" y2="429.90" stroke="#1c1c1c" stroke-width="1.3"/>
<rect x="151.28" y="432.92" width="4.60" height="35.28" fill="#A9062E" stroke="#7d0420" stroke-width="0.5"/>
<line x1="159.18" y1="429.56" x2="159.18" y2="432.25" stroke="#1c1c1c" stroke-width="1.0"/>
<line x1="157.48" y1="429.56" x2="160.88" y2="429.56" stroke="#1c1c1c" stroke-width="1.3"/>
<rect x="156.88" y="432.25" width="4.60" height="35.95" fill="#2D4681" stroke="#1d2f5a" stroke-width="0.5"/>
<line x1="156.38" y1="468.20" x2="156.38" y2="470.70" stroke="#1c1c1c" stroke-width="1.1"/>
<text x="160.58" y="477.30" font-size="7.9" fill="#1c1c1c" text-anchor="end" stroke="#1c1c1c" stroke-width="0.12" textLength="18.44" lengthAdjust="spacingAndGlyphs" transform="rotate(-45 160.58 477.30)">Cdk4</text>
<line x1="166.10" y1="432.25" x2="166.10" y2="433.93" stroke="#1c1c1c" stroke-width="1.0"/>
<line x1="164.40" y1="432.25" x2="167.80" y2="432.25" stroke="#1c1c1c" stroke-width="1.3"/>
<rect x="163.80" y="433.93" width="4.60" height="34.27" fill="#A9062E" stroke="#7d0420" stroke-width="0.5"/>
<line x1="171.70" y1="426.20" x2="171.70" y2="428.89" stroke="#1c1c1c" stroke-width="1.0"/>
<line x1="170.00" y1="426.20" x2="173.40" y2="426.20" stroke="#1c1c1c" stroke-width="1.3"/>
<rect x="169.40" y="428.89" width="4.60" height="39.31" fill="#2D4681" stroke="#1d2f5a" stroke-width="0.5"/>
<line x1="168.90" y1="468.20" x2="168.90" y2="470.70" stroke="#1c1c1c" stroke-width="1.1"/>
<text x="173.10" y="477.30" font-size="7.9" fill="#1c1c1c" text-anchor="end" stroke="#1c1c1c" stroke-width="0.12" textLength="18.44" lengthAdjust="spacingAndGlyphs" transform="rotate(-45 173.10 477.30)">Cdk6</text>
<rect x="41.80" y="385.50" width="9.60" height="5.90" fill="#A9062E"/>
<rect x="41.80" y="394.60" width="9.60" height="5.90" fill="#2D4681"/>
<text x="54.00" y="390.70" font-size="8.58" fill="#1c1c1c" stroke="#1c1c1c" stroke-width="0.12" textLength="10.3" lengthAdjust="spacingAndGlyphs">WT</text>
<g transform="translate(54.00,399.20)"><text x="0.00" y="0" font-size="8.58" textLength="20.4" lengthAdjust="spacingAndGlyphs" fill="#1c1c1c" stroke="#1c1c1c" stroke-width="0.12">SRC-3</text><text x="20.80" y="-2.96" font-size="5.15" fill="#1c1c1c" textLength="4.42" lengthAdjust="spacingAndGlyphs">-/-</text></g>
<text x="190.60" y="356.70" font-size="11" fill="#1c1c1c" font-weight="bold">H</text>
<text x="253.00" y="361.80" font-size="9.2" fill="#1c1c1c" text-anchor="middle" stroke="#1c1c1c" stroke-width="0.12" textLength="10.4" lengthAdjust="spacingAndGlyphs">SP</text>
<text x="312.85" y="361.80" font-size="9.2" fill="#1c1c1c" text-anchor="middle" stroke="#1c1c1c" stroke-width="0.12" textLength="10.7" lengthAdjust="spacingAndGlyphs">PB</text>
<g transform="translate(263.40,373.00)"><text x="0.00" y="0" font-size="9.20" textLength="9.5" lengthAdjust="spacingAndGlyphs" fill="#1c1c1c" stroke="#1c1c1c" stroke-width="0.12">Lin</text><text x="9.90" y="-3.50" font-size="6.00" fill="#1c1c1c" textLength="2.0" lengthAdjust="spacingAndGlyphs">-</text></g>
<text x="280.10" y="373.00" font-size="9.2" fill="#1c1c1c" stroke="#1c1c1c" stroke-width="0.12" textLength="26.5" lengthAdjust="spacingAndGlyphs">Gated</text>
<rect x="223.70" y="376.00" width="57.50" height="58.30" fill="none" stroke="#8a8a8a" stroke-width="0.9"/>
<line x1="229.70" y1="434.30" x2="229.70" y2="435.50" stroke="#777" stroke-width="0.6"/>
<line x1="223.70" y1="382.00" x2="222.50" y2="382.00" stroke="#777" stroke-width="0.6"/>
<line x1="241.20" y1="434.30" x2="241.20" y2="435.50" stroke="#777" stroke-width="0.6"/>
<line x1="223.70" y1="393.50" x2="222.50" y2="393.50" stroke="#777" stroke-width="0.6"/>
<line x1="252.70" y1="434.30" x2="252.70" y2="435.50" stroke="#777" stroke-width="0.6"/>
<line x1="223.70" y1="405.00" x2="222.50" y2="405.00" stroke="#777" stroke-width="0.6"/>
<line x1="264.20" y1="434.30" x2="264.20" y2="435.50" stroke="#777" stroke-width="0.6"/>
<line x1="223.70" y1="416.50" x2="222.50" y2="416.50" stroke="#777" stroke-width="0.6"/>
<line x1="275.70" y1="434.30" x2="275.70" y2="435.50" stroke="#777" stroke-width="0.6"/>
<line x1="223.70" y1="428.00" x2="222.50" y2="428.00" stroke="#777" stroke-width="0.6"/>
<g transform="translate(223.7,376)"><circle cx="38.1" cy="46.8" r="0.3" fill="#b4b4b4"/><circle cx="22.0" cy="29.8" r="0.3" fill="#b4b4b4"/><circle cx="25.4" cy="34.8" r="0.3" fill="#b4b4b4"/><circle cx="35.8" cy="31.3" r="0.3" fill="#b4b4b4"/><circle cx="24.1" cy="40.8" r="0.3" fill="#b4b4b4"/><circle cx="40.5" cy="38.2" r="0.3" fill="#b4b4b4"/><circle cx="16.7" cy="46.7" r="0.3" fill="#b4b4b4"/><circle cx="29.5" cy="29.5" r="0.3" fill="#b4b4b4"/><circle cx="17.8" cy="45.8" r="0.3" fill="#b4b4b4"/><circle cx="40.2" cy="44.3" r="0.3" fill="#b4b4b4"/><circle cx="23.9" cy="24.4" r="0.3" fill="#b4b4b4"/><circle cx="22.5" cy="41.8" r="0.3" fill="#b4b4b4"/><circle cx="24.1" cy="50.4" r="0.3" fill="#b4b4b4"/><circle cx="15.9" cy="48.4" r="0.3" fill="#b4b4b4"/><circle cx="26.9" cy="21.5" r="0.3" fill="#b4b4b4"/><circle cx="33.3" cy="34.6" r="0.3" fill="#b4b4b4"/><circle cx="37.3" cy="43.7" r="0.3" fill="#b4b4b4"/><circle cx="6.0" cy="37.8" r="0.3" fill="#b4b4b4"/><circle cx="39.0" cy="29.3" r="0.3" fill="#b4b4b4"/><circle cx="18.4" cy="50.6" r="0.3" fill="#b4b4b4"/><circle cx="13.3" cy="40.3" r="0.3" fill="#b4b4b4"/><circle cx="36.5" cy="36.2" r="0.3" fill="#b4b4b4"/><circle cx="9.1" cy="31.9" r="0.3" fill="#b4b4b4"/><circle cx="25.3" cy="52.7" r="0.3" fill="#b4b4b4"/><circle cx="10.1" cy="39.7" r="0.3" fill="#b4b4b4"/><circle cx="32.8" cy="39.6" r="0.3" fill="#b4b4b4"/><circle cx="36.9" cy="39.4" r="0.3" fill="#b4b4b4"/><circle cx="42.6" cy="41.5" r="0.3" fill="#b4b4b4"/><circle cx="28.3" cy="36.1" r="0.3" fill="#b4b4b4"/><circle cx="28.7" cy="34.1" r="0.3" fill="#b4b4b4"/><circle cx="27.9" cy="30.9" r="0.3" fill="#b4b4b4"/><circle cx="13.2" cy="27.3" r="0.3" fill="#b4b4b4"/><circle cx="29.3" cy="43.3" r="0.3" fill="#b4b4b4"/><circle cx="24.1" cy="24.1" r="0.3" fill="#b4b4b4"/><circle cx="34.8" cy="50.8" r="0.3" fill="#b4b4b4"/><circle cx="26.5" cy="34.3" r="0.3" fill="#b4b4b4"/><circle cx="32.8" cy="30.4" r="0.3" fill="#b4b4b4"/><circle cx="36.8" cy="49.9" r="0.3" fill="#b4b4b4"/><circle cx="40.0" cy="41.1" r="0.3" fill="#b4b4b4"/><circle cx="42.1" cy="40.7" r="0.3" fill="#b4b4b4"/><circle cx="23.1" cy="43.4" r="0.3" fill="#b4b4b4"/><circle cx="29.3" cy="37.5" r="0.3" fill="#b4b4b4"/><circle cx="29.9" cy="49.7" r="0.3" fill="#b4b4b4"/><circle cx="15.2" cy="45.9" r="0.3" fill="#b4b4b4"/><circle cx="10.5" cy="28.5" r="0.3" fill="#b4b4b4"/><circle cx="36.2" cy="32.3" r="0.3" fill="#b4b4b4"/><circle cx="11.6" cy="44.7" r="0.3" fill="#b4b4b4"/><circle cx="7.7" cy="40.5" r="0.3" fill="#b4b4b4"/><circle cx="40.6" cy="39.2" r="0.3" fill="#b4b4b4"/><circle cx="30.1" cy="41.6" r="0.3" fill="#b4b4b4"/><circle cx="27.9" cy="34.3" r="0.3" fill="#b4b4b4"/><circle cx="20.1" cy="54.3" r="0.3" fill="#b4b4b4"/><circle cx="10.7" cy="28.2" r="0.3" fill="#b4b4b4"/><circle cx="6.9" cy="35.5" r="0.3" fill="#b4b4b4"/><circle cx="9.9" cy="29.8" r="0.3" fill="#b4b4b4"/><circle cx="14.4" cy="43.0" r="0.3" fill="#b4b4b4"/><circle cx="19.3" cy="27.1" r="0.3" fill="#b4b4b4"/><circle cx="25.1" cy="22.3" r="0.3" fill="#b4b4b4"/><circle cx="13.6" cy="33.2" r="0.3" fill="#b4b4b4"/><circle cx="33.8" cy="49.5" r="0.3" fill="#b4b4b4"/><circle cx="31.6" cy="53.9" r="0.3" fill="#b4b4b4"/><circle cx="8.2" cy="44.0" r="0.3" fill="#b4b4b4"/><circle cx="38.1" cy="32.6" r="0.3" fill="#b4b4b4"/><circle cx="15.5" cy="41.3" r="0.3" fill="#b4b4b4"/><circle cx="22.8" cy="26.9" r="0.3" fill="#b4b4b4"/><circle cx="23.9" cy="34.9" r="0.3" fill="#b4b4b4"/><circle cx="27.6" cy="38.3" r="0.3" fill="#b4b4b4"/><circle cx="17.8" cy="33.1" r="0.3" fill="#b4b4b4"/><circle cx="37.8" cy="29.5" r="0.3" fill="#b4b4b4"/><circle cx="27.3" cy="21.4" r="0.3" fill="#b4b4b4"/><g filter="url(#blur2)"><polygon points="15,25 40,34 42,44 19,41" fill="#e4e4e4"/><ellipse cx="12.3" cy="26.2" rx="5.2" ry="4.6" fill="#c2c2c2"/><path d="M7.5,30 L19,30 L20,42 L8,44 Z" fill="#d4d4d4"/><ellipse cx="13.8" cy="47" rx="7.8" ry="7.6" fill="#bababa"/><ellipse cx="31" cy="47.5" rx="8.3" ry="6.8" fill="#b2b2b2"/><rect x="16" y="43" width="12" height="10" fill="#c4c4c4"/></g><g filter="url(#blur1)" fill="none"><line x1="16" y1="27" x2="40" y2="36" stroke="#aaa" stroke-width="0.8"/><ellipse cx="12.3" cy="26.2" rx="3.6" ry="3.1" stroke="#9a9a9a" stroke-width="0.9"/><path d="M8,32 Q7.5,50 11,54 Q22,55.5 34,54.5 Q40,52.5 39.5,46 Q38,40 31,40.5 Q24,41.5 20,41 L19,32" stroke="#999" stroke-width="0.9"/><ellipse cx="13.8" cy="47.5" rx="4.8" ry="4.8" stroke="#8a8a8a" stroke-width="1"/><ellipse cx="31" cy="47.6" rx="5.6" ry="4.5" stroke="#6e6e6e" stroke-width="1.1"/><ellipse cx="31.5" cy="47.8" rx="3" ry="2.2" stroke="#5a5a5a" stroke-width="1"/></g></g>
<rect x="247.30" y="397.80" width="16.00" height="9.50" fill="none" stroke="#5a5a5a" stroke-width="0.9"/>
<text x="264.80" y="400.30" font-size="7.3" fill="#1c1c1c" stroke="#1c1c1c" stroke-width="0.12" textLength="11.4" lengthAdjust="spacingAndGlyphs">LSK</text>
<text x="264.80" y="407.60" font-size="7.3" fill="#1c1c1c" stroke="#1c1c1c" stroke-width="0.12" textLength="12.2" lengthAdjust="spacingAndGlyphs">0.73</text>
<rect x="286.70" y="376.00" width="58.80" height="58.30" fill="none" stroke="#8a8a8a" stroke-width="0.9"/>
<line x1="292.70" y1="434.30" x2="292.70" y2="435.50" stroke="#777" stroke-width="0.6"/>
<line x1="286.70" y1="382.00" x2="285.50" y2="382.00" stroke="#777" stroke-width="0.6"/>
<line x1="304.20" y1="434.30" x2="304.20" y2="435.50" stroke="#777" stroke-width="0.6"/>
<line x1="286.70" y1="393.50" x2="285.50" y2="393.50" stroke="#777" stroke-width="0.6"/>
<line x1="315.70" y1="434.30" x2="315.70" y2="435.50" stroke="#777" stroke-width="0.6"/>
<line x1="286.70" y1="405.00" x2="285.50" y2="405.00" stroke="#777" stroke-width="0.6"/>
<line x1="327.20" y1="434.30" x2="327.20" y2="435.50" stroke="#777" stroke-width="0.6"/>
<line x1="286.70" y1="416.50" x2="285.50" y2="416.50" stroke="#777" stroke-width="0.6"/>
<line x1="338.70" y1="434.30" x2="338.70" y2="435.50" stroke="#777" stroke-width="0.6"/>
<line x1="286.70" y1="428.00" x2="285.50" y2="428.00" stroke="#777" stroke-width="0.6"/>
<g transform="translate(286.7,376)"><g filter="url(#blur2)"><ellipse cx="22" cy="38" rx="15" ry="8" fill="#eeeeee"/><ellipse cx="21" cy="47.5" rx="16" ry="8" fill="#cccccc"/></g><circle cx="31.0" cy="34.1" r="0.33" fill="#9a9a9a"/><circle cx="21.8" cy="38.0" r="0.33" fill="#9a9a9a"/><circle cx="27.2" cy="44.8" r="0.33" fill="#9a9a9a"/><circle cx="33.4" cy="37.7" r="0.33" fill="#9a9a9a"/><circle cx="20.1" cy="43.4" r="0.33" fill="#9a9a9a"/><circle cx="5.9" cy="39.8" r="0.33" fill="#9a9a9a"/><circle cx="36.9" cy="36.6" r="0.33" fill="#9a9a9a"/><circle cx="12.4" cy="37.4" r="0.33" fill="#9a9a9a"/><circle cx="19.9" cy="38.9" r="0.33" fill="#9a9a9a"/><circle cx="12.9" cy="33.6" r="0.33" fill="#9a9a9a"/><circle cx="12.4" cy="38.2" r="0.33" fill="#9a9a9a"/><circle cx="33.5" cy="40.1" r="0.33" fill="#9a9a9a"/><circle cx="26.8" cy="32.7" r="0.33" fill="#9a9a9a"/><circle cx="9.1" cy="35.7" r="0.33" fill="#9a9a9a"/><circle cx="29.5" cy="43.2" r="0.33" fill="#9a9a9a"/><circle cx="36.8" cy="37.4" r="0.33" fill="#9a9a9a"/><circle cx="33.2" cy="42.4" r="0.33" fill="#9a9a9a"/><circle cx="15.3" cy="40.8" r="0.33" fill="#9a9a9a"/><circle cx="22.2" cy="40.8" r="0.33" fill="#9a9a9a"/><circle cx="32.1" cy="37.3" r="0.33" fill="#9a9a9a"/><circle cx="10.9" cy="40.0" r="0.33" fill="#9a9a9a"/><circle cx="28.9" cy="42.5" r="0.33" fill="#9a9a9a"/><circle cx="17.7" cy="37.8" r="0.33" fill="#9a9a9a"/><circle cx="22.3" cy="44.6" r="0.33" fill="#9a9a9a"/><circle cx="22.7" cy="36.9" r="0.33" fill="#9a9a9a"/><circle cx="21.6" cy="29.6" r="0.33" fill="#9a9a9a"/><circle cx="6.5" cy="43.1" r="0.33" fill="#9a9a9a"/><circle cx="38.4" cy="40.9" r="0.33" fill="#9a9a9a"/><circle cx="18.4" cy="32.4" r="0.33" fill="#9a9a9a"/><circle cx="22.1" cy="48.6" r="0.33" fill="#9a9a9a"/><circle cx="31.2" cy="39.8" r="0.33" fill="#9a9a9a"/><circle cx="34.2" cy="33.6" r="0.33" fill="#9a9a9a"/><circle cx="22.5" cy="48.0" r="0.33" fill="#9a9a9a"/><circle cx="24.6" cy="38.2" r="0.33" fill="#9a9a9a"/><circle cx="14.2" cy="40.0" r="0.33" fill="#9a9a9a"/><circle cx="31.6" cy="45.4" r="0.33" fill="#9a9a9a"/><circle cx="35.1" cy="43.8" r="0.33" fill="#9a9a9a"/><circle cx="32.5" cy="39.4" r="0.33" fill="#9a9a9a"/><circle cx="24.1" cy="37.5" r="0.33" fill="#9a9a9a"/><circle cx="24.4" cy="33.0" r="0.33" fill="#9a9a9a"/><circle cx="22.2" cy="38.7" r="0.33" fill="#9a9a9a"/><circle cx="17.1" cy="35.9" r="0.33" fill="#9a9a9a"/><circle cx="23.3" cy="41.5" r="0.33" fill="#9a9a9a"/><circle cx="25.8" cy="38.2" r="0.33" fill="#9a9a9a"/><circle cx="11.0" cy="40.7" r="0.33" fill="#9a9a9a"/><circle cx="34.3" cy="45.0" r="0.33" fill="#9a9a9a"/><circle cx="32.1" cy="45.3" r="0.33" fill="#9a9a9a"/><circle cx="13.7" cy="45.8" r="0.33" fill="#9a9a9a"/><circle cx="27.9" cy="30.7" r="0.33" fill="#9a9a9a"/><circle cx="30.7" cy="34.0" r="0.33" fill="#9a9a9a"/><circle cx="8.7" cy="41.5" r="0.33" fill="#9a9a9a"/><circle cx="16.7" cy="30.4" r="0.33" fill="#9a9a9a"/><circle cx="10.4" cy="39.5" r="0.33" fill="#9a9a9a"/><circle cx="10.7" cy="34.5" r="0.33" fill="#9a9a9a"/><circle cx="29.2" cy="38.1" r="0.33" fill="#9a9a9a"/><circle cx="15.9" cy="38.5" r="0.33" fill="#9a9a9a"/><circle cx="5.8" cy="36.7" r="0.33" fill="#9a9a9a"/><circle cx="19.3" cy="32.8" r="0.33" fill="#9a9a9a"/><circle cx="22.3" cy="33.2" r="0.33" fill="#9a9a9a"/><circle cx="25.6" cy="45.3" r="0.33" fill="#9a9a9a"/><circle cx="10.0" cy="43.4" r="0.33" fill="#9a9a9a"/><circle cx="10.4" cy="43.1" r="0.33" fill="#9a9a9a"/><circle cx="28.1" cy="39.9" r="0.33" fill="#9a9a9a"/><circle cx="32.1" cy="39.3" r="0.33" fill="#9a9a9a"/><circle cx="12.6" cy="42.0" r="0.33" fill="#9a9a9a"/><circle cx="18.4" cy="40.5" r="0.33" fill="#9a9a9a"/><circle cx="15.9" cy="41.6" r="0.33" fill="#9a9a9a"/><circle cx="7.0" cy="35.0" r="0.33" fill="#9a9a9a"/><circle cx="15.4" cy="46.2" r="0.33" fill="#9a9a9a"/><circle cx="15.6" cy="47.8" r="0.33" fill="#9a9a9a"/><circle cx="30.3" cy="37.3" r="0.33" fill="#9a9a9a"/><circle cx="24.4" cy="32.4" r="0.33" fill="#9a9a9a"/><circle cx="28.9" cy="39.2" r="0.33" fill="#9a9a9a"/><circle cx="17.9" cy="35.9" r="0.33" fill="#9a9a9a"/><circle cx="12.0" cy="42.5" r="0.33" fill="#9a9a9a"/><circle cx="19.7" cy="32.9" r="0.33" fill="#9a9a9a"/><circle cx="8.6" cy="42.3" r="0.33" fill="#9a9a9a"/><circle cx="15.1" cy="39.0" r="0.33" fill="#9a9a9a"/><circle cx="16.1" cy="46.4" r="0.33" fill="#9a9a9a"/><circle cx="11.8" cy="35.6" r="0.33" fill="#9a9a9a"/><circle cx="16.5" cy="33.3" r="0.33" fill="#9a9a9a"/><circle cx="27.9" cy="45.8" r="0.33" fill="#9a9a9a"/><circle cx="36.7" cy="35.9" r="0.33" fill="#9a9a9a"/><circle cx="35.0" cy="42.7" r="0.33" fill="#9a9a9a"/><circle cx="21.5" cy="48.7" r="0.33" fill="#9a9a9a"/><circle cx="13.0" cy="43.5" r="0.33" fill="#9a9a9a"/><circle cx="30.8" cy="41.0" r="0.33" fill="#9a9a9a"/><circle cx="33.6" cy="36.4" r="0.33" fill="#9a9a9a"/><circle cx="16.6" cy="34.8" r="0.33" fill="#9a9a9a"/><circle cx="34.5" cy="41.1" r="0.33" fill="#9a9a9a"/><circle cx="9.6" cy="40.0" r="0.33" fill="#9a9a9a"/><circle cx="31.8" cy="45.6" r="0.33" fill="#9a9a9a"/><circle cx="16.6" cy="41.3" r="0.33" fill="#9a9a9a"/><circle cx="31.6" cy="36.6" r="0.33" fill="#9a9a9a"/><circle cx="24.4" cy="33.5" r="0.33" fill="#9a9a9a"/><circle cx="7.8" cy="34.3" r="0.33" fill="#9a9a9a"/><circle cx="35.3" cy="40.3" r="0.33" fill="#9a9a9a"/><circle cx="36.5" cy="38.2" r="0.33" fill="#9a9a9a"/><circle cx="14.4" cy="44.7" r="0.33" fill="#9a9a9a"/><circle cx="27.8" cy="30.8" r="0.33" fill="#9a9a9a"/><circle cx="38.6" cy="37.4" r="0.33" fill="#9a9a9a"/><circle cx="13.2" cy="43.9" r="0.33" fill="#9a9a9a"/><circle cx="17.9" cy="48.4" r="0.33" fill="#9a9a9a"/><circle cx="35.9" cy="34.9" r="0.33" fill="#9a9a9a"/><circle cx="13.6" cy="38.5" r="0.33" fill="#9a9a9a"/><circle cx="8.4" cy="42.0" r="0.33" fill="#9a9a9a"/><circle cx="25.3" cy="38.0" r="0.33" fill="#9a9a9a"/><circle cx="15.7" cy="30.3" r="0.33" fill="#9a9a9a"/><circle cx="12.3" cy="41.4" r="0.33" fill="#9a9a9a"/><circle cx="38.3" cy="39.9" r="0.33" fill="#9a9a9a"/><circle cx="28.4" cy="42.2" r="0.33" fill="#9a9a9a"/><circle cx="13.8" cy="39.8" r="0.33" fill="#9a9a9a"/><circle cx="15.4" cy="33.9" r="0.33" fill="#9a9a9a"/><circle cx="7.8" cy="34.6" r="0.33" fill="#9a9a9a"/><circle cx="38.4" cy="38.0" r="0.33" fill="#9a9a9a"/><circle cx="27.2" cy="41.9" r="0.33" fill="#9a9a9a"/><circle cx="37.0" cy="36.8" r="0.33" fill="#9a9a9a"/><circle cx="15.4" cy="35.5" r="0.33" fill="#9a9a9a"/><circle cx="15.8" cy="45.9" r="0.33" fill="#9a9a9a"/><circle cx="35.4" cy="35.1" r="0.33" fill="#9a9a9a"/><circle cx="16.4" cy="39.9" r="0.33" fill="#9a9a9a"/><circle cx="24.7" cy="40.9" r="0.33" fill="#9a9a9a"/><circle cx="13.3" cy="30.4" r="0.33" fill="#9a9a9a"/><circle cx="23.7" cy="30.4" r="0.33" fill="#9a9a9a"/><circle cx="7.6" cy="41.7" r="0.33" fill="#9a9a9a"/><circle cx="14.9" cy="44.8" r="0.33" fill="#9a9a9a"/><circle cx="21.8" cy="46.3" r="0.33" fill="#9a9a9a"/><circle cx="10.2" cy="39.0" r="0.33" fill="#9a9a9a"/><circle cx="32.9" cy="35.4" r="0.33" fill="#9a9a9a"/><circle cx="8.6" cy="39.3" r="0.33" fill="#9a9a9a"/><circle cx="36.3" cy="34.9" r="0.33" fill="#9a9a9a"/><circle cx="15.7" cy="47.1" r="0.33" fill="#9a9a9a"/><circle cx="33.6" cy="43.9" r="0.33" fill="#9a9a9a"/><circle cx="28.4" cy="32.6" r="0.33" fill="#9a9a9a"/><circle cx="19.7" cy="32.2" r="0.33" fill="#9a9a9a"/><circle cx="29.3" cy="42.4" r="0.33" fill="#9a9a9a"/><circle cx="23.7" cy="39.8" r="0.33" fill="#9a9a9a"/><circle cx="33.9" cy="38.1" r="0.33" fill="#9a9a9a"/><circle cx="18.5" cy="35.8" r="0.33" fill="#9a9a9a"/><circle cx="27.0" cy="37.3" r="0.33" fill="#9a9a9a"/><circle cx="24.4" cy="30.2" r="0.33" fill="#9a9a9a"/><circle cx="17.1" cy="31.8" r="0.33" fill="#9a9a9a"/><circle cx="9.3" cy="34.2" r="0.33" fill="#9a9a9a"/><circle cx="33.2" cy="37.0" r="0.33" fill="#9a9a9a"/><circle cx="18.6" cy="41.2" r="0.33" fill="#9a9a9a"/><circle cx="23.0" cy="39.0" r="0.33" fill="#9a9a9a"/><circle cx="27.1" cy="37.8" r="0.33" fill="#9a9a9a"/><circle cx="28.3" cy="43.6" r="0.33" fill="#9a9a9a"/><circle cx="13.1" cy="38.9" r="0.33" fill="#9a9a9a"/><circle cx="21.3" cy="33.5" r="0.33" fill="#9a9a9a"/><circle cx="19.0" cy="40.2" r="0.33" fill="#9a9a9a"/><circle cx="14.4" cy="41.9" r="0.33" fill="#9a9a9a"/><circle cx="22.4" cy="46.5" r="0.33" fill="#9a9a9a"/><circle cx="10.4" cy="44.3" r="0.33" fill="#9a9a9a"/><circle cx="35.0" cy="35.2" r="0.33" fill="#9a9a9a"/><circle cx="28.5" cy="46.0" r="0.33" fill="#9a9a9a"/><circle cx="17.6" cy="43.0" r="0.33" fill="#9a9a9a"/><circle cx="30.0" cy="40.9" r="0.33" fill="#9a9a9a"/><circle cx="37.6" cy="40.4" r="0.33" fill="#9a9a9a"/><circle cx="11.0" cy="34.0" r="0.33" fill="#9a9a9a"/><circle cx="12.4" cy="40.4" r="0.33" fill="#9a9a9a"/><circle cx="28.2" cy="43.3" r="0.33" fill="#9a9a9a"/><circle cx="16.8" cy="39.3" r="0.33" fill="#9a9a9a"/><circle cx="10.6" cy="43.6" r="0.33" fill="#9a9a9a"/><circle cx="32.5" cy="41.6" r="0.33" fill="#9a9a9a"/><circle cx="14.1" cy="47.3" r="0.33" fill="#9a9a9a"/><circle cx="31.4" cy="45.8" r="0.33" fill="#9a9a9a"/><circle cx="27.4" cy="43.0" r="0.33" fill="#9a9a9a"/><circle cx="20.1" cy="47.5" r="0.33" fill="#9a9a9a"/><circle cx="38.0" cy="36.6" r="0.33" fill="#9a9a9a"/><circle cx="32.3" cy="37.7" r="0.33" fill="#9a9a9a"/><circle cx="10.6" cy="35.5" r="0.33" fill="#9a9a9a"/><circle cx="25.4" cy="37.2" r="0.33" fill="#9a9a9a"/><circle cx="9.0" cy="34.9" r="0.33" fill="#9a9a9a"/><circle cx="13.4" cy="44.0" r="0.33" fill="#9a9a9a"/><circle cx="19.9" cy="29.4" r="0.33" fill="#9a9a9a"/><circle cx="26.3" cy="41.1" r="0.33" fill="#9a9a9a"/><circle cx="33.4" cy="33.1" r="0.33" fill="#9a9a9a"/><circle cx="14.7" cy="39.8" r="0.33" fill="#9a9a9a"/><circle cx="14.3" cy="40.7" r="0.33" fill="#9a9a9a"/><circle cx="13.5" cy="42.7" r="0.33" fill="#9a9a9a"/><circle cx="31.9" cy="45.2" r="0.33" fill="#9a9a9a"/><circle cx="38.1" cy="39.9" r="0.33" fill="#9a9a9a"/><circle cx="21.7" cy="46.1" r="0.33" fill="#9a9a9a"/><circle cx="31.1" cy="40.4" r="0.33" fill="#9a9a9a"/><circle cx="18.0" cy="34.7" r="0.33" fill="#9a9a9a"/><circle cx="8.7" cy="45.2" r="0.33" fill="#9a9a9a"/><circle cx="9.0" cy="43.9" r="0.33" fill="#9a9a9a"/><circle cx="23.5" cy="48.3" r="0.33" fill="#9a9a9a"/><circle cx="9.6" cy="39.0" r="0.33" fill="#9a9a9a"/><circle cx="24.5" cy="35.2" r="0.33" fill="#9a9a9a"/><circle cx="22.1" cy="36.1" r="0.33" fill="#9a9a9a"/><circle cx="23.0" cy="29.0" r="0.33" fill="#9a9a9a"/><circle cx="20.0" cy="38.0" r="0.33" fill="#9a9a9a"/><circle cx="15.4" cy="37.0" r="0.33" fill="#9a9a9a"/><circle cx="31.6" cy="42.7" r="0.33" fill="#9a9a9a"/><circle cx="21.7" cy="42.0" r="0.33" fill="#9a9a9a"/><circle cx="17.8" cy="33.1" r="0.33" fill="#9a9a9a"/><circle cx="25.3" cy="46.6" r="0.33" fill="#9a9a9a"/><circle cx="33.2" cy="39.2" r="0.33" fill="#9a9a9a"/><circle cx="38.6" cy="38.2" r="0.33" fill="#9a9a9a"/><circle cx="33.4" cy="37.2" r="0.33" fill="#9a9a9a"/><circle cx="15.4" cy="32.4" r="0.33" fill="#9a9a9a"/><circle cx="26.1" cy="39.6" r="0.33" fill="#9a9a9a"/><circle cx="18.2" cy="37.5" r="0.33" fill="#9a9a9a"/><circle cx="18.8" cy="46.2" r="0.33" fill="#9a9a9a"/><circle cx="24.9" cy="43.7" r="0.33" fill="#9a9a9a"/><circle cx="35.5" cy="44.0" r="0.33" fill="#9a9a9a"/><circle cx="21.8" cy="43.9" r="0.33" fill="#9a9a9a"/><circle cx="26.8" cy="42.0" r="0.33" fill="#9a9a9a"/><circle cx="26.4" cy="37.1" r="0.33" fill="#9a9a9a"/><circle cx="26.4" cy="41.7" r="0.33" fill="#9a9a9a"/><circle cx="33.8" cy="44.3" r="0.33" fill="#9a9a9a"/><circle cx="32.7" cy="41.1" r="0.33" fill="#9a9a9a"/><circle cx="16.9" cy="34.3" r="0.33" fill="#9a9a9a"/><circle cx="29.1" cy="46.5" r="0.33" fill="#9a9a9a"/><circle cx="23.5" cy="32.0" r="0.33" fill="#9a9a9a"/><circle cx="33.3" cy="38.7" r="0.33" fill="#9a9a9a"/><circle cx="20.9" cy="29.9" r="0.33" fill="#9a9a9a"/><circle cx="22.3" cy="43.9" r="0.33" fill="#9a9a9a"/><g filter="url(#blur1)"><ellipse cx="20" cy="48.6" rx="13" ry="6.2" fill="none" stroke="#aaa" stroke-width="0.9"/><rect x="10.4" y="45.8" width="18.4" height="6.2" rx="3.1" fill="#a8a8a8" stroke="#4a4a4a" stroke-width="0.9"/><line x1="13.5" y1="48.9" x2="26.5" y2="48.9" stroke="#f2f2f2" stroke-width="1.1"/><circle cx="13.6" cy="48.9" r="2.2" fill="none" stroke="#2a2a2a" stroke-width="1.2"/><circle cx="26" cy="48.9" r="1.8" fill="none" stroke="#555" stroke-width="0.9"/></g></g>
<rect x="311.40" y="397.80" width="16.00" height="9.50" fill="none" stroke="#5a5a5a" stroke-width="0.9"/>
<text x="328.90" y="400.30" font-size="7.3" fill="#1c1c1c" stroke="#1c1c1c" stroke-width="0.12" textLength="11.4" lengthAdjust="spacingAndGlyphs">LSK</text>
<text x="328.90" y="407.60" font-size="7.3" fill="#1c1c1c" stroke="#1c1c1c" stroke-width="0.12" textLength="12.2" lengthAdjust="spacingAndGlyphs">0.13</text>
<rect x="223.70" y="440.40" width="57.50" height="57.90" fill="none" stroke="#8a8a8a" stroke-width="0.9"/>
<line x1="229.70" y1="498.30" x2="229.70" y2="499.50" stroke="#777" stroke-width="0.6"/>
<line x1="223.70" y1="446.40" x2="222.50" y2="446.40" stroke="#777" stroke-width="0.6"/>
<line x1="241.20" y1="498.30" x2="241.20" y2="499.50" stroke="#777" stroke-width="0.6"/>
<line x1="223.70" y1="457.90" x2="222.50" y2="457.90" stroke="#777" stroke-width="0.6"/>
<line x1="252.70" y1="498.30" x2="252.70" y2="499.50" stroke="#777" stroke-width="0.6"/>
<line x1="223.70" y1="469.40" x2="222.50" y2="469.40" stroke="#777" stroke-width="0.6"/>
<line x1="264.20" y1="498.30" x2="264.20" y2="499.50" stroke="#777" stroke-width="0.6"/>
<line x1="223.70" y1="480.90" x2="222.50" y2="480.90" stroke="#777" stroke-width="0.6"/>
<line x1="275.70" y1="498.30" x2="275.70" y2="499.50" stroke="#777" stroke-width="0.6"/>
<line x1="223.70" y1="492.40" x2="222.50" y2="492.40" stroke="#777" stroke-width="0.6"/>
<g transform="translate(223.7,440.4)"><circle cx="27.7" cy="35.6" r="0.3" fill="#b4b4b4"/><circle cx="28.0" cy="28.0" r="0.3" fill="#b4b4b4"/><circle cx="36.9" cy="49.0" r="0.3" fill="#b4b4b4"/><circle cx="30.8" cy="26.4" r="0.3" fill="#b4b4b4"/><circle cx="25.8" cy="32.1" r="0.3" fill="#b4b4b4"/><circle cx="38.7" cy="41.5" r="0.3" fill="#b4b4b4"/><circle cx="20.5" cy="30.6" r="0.3" fill="#b4b4b4"/><circle cx="31.6" cy="36.5" r="0.3" fill="#b4b4b4"/><circle cx="32.1" cy="43.5" r="0.3" fill="#b4b4b4"/><circle cx="11.1" cy="47.1" r="0.3" fill="#b4b4b4"/><circle cx="29.3" cy="22.5" r="0.3" fill="#b4b4b4"/><circle cx="41.8" cy="31.3" r="0.3" fill="#b4b4b4"/><circle cx="19.9" cy="51.5" r="0.3" fill="#b4b4b4"/><circle cx="17.9" cy="39.7" r="0.3" fill="#b4b4b4"/><circle cx="22.6" cy="23.2" r="0.3" fill="#b4b4b4"/><circle cx="28.2" cy="49.7" r="0.3" fill="#b4b4b4"/><circle cx="11.9" cy="28.6" r="0.3" fill="#b4b4b4"/><circle cx="21.7" cy="22.3" r="0.3" fill="#b4b4b4"/><circle cx="24.9" cy="48.8" r="0.3" fill="#b4b4b4"/><circle cx="31.0" cy="39.1" r="0.3" fill="#b4b4b4"/><circle cx="38.5" cy="26.1" r="0.3" fill="#b4b4b4"/><circle cx="27.6" cy="33.7" r="0.3" fill="#b4b4b4"/><circle cx="28.8" cy="24.8" r="0.3" fill="#b4b4b4"/><circle cx="35.5" cy="24.3" r="0.3" fill="#b4b4b4"/><circle cx="12.3" cy="48.5" r="0.3" fill="#b4b4b4"/><circle cx="42.0" cy="35.7" r="0.3" fill="#b4b4b4"/><circle cx="21.7" cy="29.3" r="0.3" fill="#b4b4b4"/><circle cx="16.4" cy="42.0" r="0.3" fill="#b4b4b4"/><circle cx="12.8" cy="25.1" r="0.3" fill="#b4b4b4"/><circle cx="23.3" cy="26.6" r="0.3" fill="#b4b4b4"/><circle cx="30.7" cy="48.9" r="0.3" fill="#b4b4b4"/><circle cx="35.5" cy="37.3" r="0.3" fill="#b4b4b4"/><circle cx="19.2" cy="35.8" r="0.3" fill="#b4b4b4"/><circle cx="18.6" cy="31.9" r="0.3" fill="#b4b4b4"/><circle cx="9.0" cy="36.2" r="0.3" fill="#b4b4b4"/><circle cx="28.1" cy="34.3" r="0.3" fill="#b4b4b4"/><circle cx="39.0" cy="43.9" r="0.3" fill="#b4b4b4"/><circle cx="15.2" cy="38.9" r="0.3" fill="#b4b4b4"/><circle cx="40.6" cy="38.7" r="0.3" fill="#b4b4b4"/><circle cx="28.9" cy="23.1" r="0.3" fill="#b4b4b4"/><circle cx="24.6" cy="36.7" r="0.3" fill="#b4b4b4"/><circle cx="21.2" cy="35.3" r="0.3" fill="#b4b4b4"/><circle cx="28.2" cy="39.3" r="0.3" fill="#b4b4b4"/><circle cx="24.6" cy="26.6" r="0.3" fill="#b4b4b4"/><circle cx="22.8" cy="53.9" r="0.3" fill="#b4b4b4"/><circle cx="21.8" cy="22.2" r="0.3" fill="#b4b4b4"/><circle cx="6.1" cy="39.2" r="0.3" fill="#b4b4b4"/><circle cx="10.1" cy="36.4" r="0.3" fill="#b4b4b4"/><circle cx="43.7" cy="37.5" r="0.3" fill="#b4b4b4"/><circle cx="23.4" cy="35.8" r="0.3" fill="#b4b4b4"/><circle cx="25.0" cy="36.2" r="0.3" fill="#b4b4b4"/><circle cx="33.6" cy="51.5" r="0.3" fill="#b4b4b4"/><circle cx="32.5" cy="35.4" r="0.3" fill="#b4b4b4"/><circle cx="30.7" cy="51.9" r="0.3" fill="#b4b4b4"/><circle cx="11.8" cy="29.1" r="0.3" fill="#b4b4b4"/><circle cx="29.5" cy="44.4" r="0.3" fill="#b4b4b4"/><circle cx="30.4" cy="41.0" r="0.3" fill="#b4b4b4"/><circle cx="37.5" cy="37.3" r="0.3" fill="#b4b4b4"/><circle cx="22.5" cy="50.2" r="0.3" fill="#b4b4b4"/><circle cx="33.3" cy="51.2" r="0.3" fill="#b4b4b4"/><circle cx="31.5" cy="25.8" r="0.3" fill="#b4b4b4"/><circle cx="28.6" cy="52.3" r="0.3" fill="#b4b4b4"/><circle cx="13.3" cy="32.9" r="0.3" fill="#b4b4b4"/><circle cx="13.9" cy="24.3" r="0.3" fill="#b4b4b4"/><circle cx="23.6" cy="46.3" r="0.3" fill="#b4b4b4"/><circle cx="32.4" cy="38.8" r="0.3" fill="#b4b4b4"/><circle cx="22.1" cy="43.6" r="0.3" fill="#b4b4b4"/><circle cx="27.1" cy="30.0" r="0.3" fill="#b4b4b4"/><circle cx="19.8" cy="42.3" r="0.3" fill="#b4b4b4"/><circle cx="29.8" cy="28.1" r="0.3" fill="#b4b4b4"/><g filter="url(#blur2)"><polygon points="16,22 40,33 42,43 18,35" fill="#e2e2e2"/><path d="M8,29 L17,29 L18,42 L9,44 Z" fill="#cdcdcd"/><ellipse cx="14" cy="47.5" rx="6.8" ry="6.2" fill="#c0c0c0"/><ellipse cx="33" cy="47.2" rx="7.3" ry="5.8" fill="#c0c0c0"/><rect x="16" y="43" width="14" height="9" fill="#c8c8c8"/><circle cx="12.8" cy="26.1" r="5.6" fill="#a8a8a8"/></g><g filter="url(#blur1)" fill="none"><line x1="17" y1="24" x2="40" y2="34" stroke="#aaa" stroke-width="0.8"/><circle cx="12.8" cy="26.1" r="3.7" stroke="#555" stroke-width="1.6"/><path d="M8.5,31 Q8,48 10.5,52.5 Q20,54.5 34,53.5 Q40.5,52 40,46 Q39,41 33,41.5 Q26,42.5 20,43 Q17,42 16.8,31" stroke="#8e8e8e" stroke-width="0.9"/><ellipse cx="14" cy="48" rx="4" ry="3.6" stroke="#9a9a9a" stroke-width="0.8"/><ellipse cx="33" cy="47.5" rx="4.6" ry="3.4" stroke="#8a8a8a" stroke-width="0.9"/></g><circle cx="12.8" cy="26.1" r="1.3" fill="#f4f4f4"/></g>
<rect x="247.30" y="462.20" width="16.00" height="9.50" fill="none" stroke="#5a5a5a" stroke-width="0.9"/>
<text x="264.80" y="464.70" font-size="7.3" fill="#1c1c1c" stroke="#1c1c1c" stroke-width="0.12" textLength="11.4" lengthAdjust="spacingAndGlyphs">LSK</text>
<text x="264.80" y="472.00" font-size="7.3" fill="#1c1c1c" stroke="#1c1c1c" stroke-width="0.12" textLength="12.2" lengthAdjust="spacingAndGlyphs">1.85</text>
<rect x="286.70" y="440.40" width="58.80" height="57.90" fill="none" stroke="#8a8a8a" stroke-width="0.9"/>
<line x1="292.70" y1="498.30" x2="292.70" y2="499.50" stroke="#777" stroke-width="0.6"/>
<line x1="286.70" y1="446.40" x2="285.50" y2="446.40" stroke="#777" stroke-width="0.6"/>
<line x1="304.20" y1="498.30" x2="304.20" y2="499.50" stroke="#777" stroke-width="0.6"/>
<line x1="286.70" y1="457.90" x2="285.50" y2="457.90" stroke="#777" stroke-width="0.6"/>
<line x1="315.70" y1="498.30" x2="315.70" y2="499.50" stroke="#777" stroke-width="0.6"/>
<line x1="286.70" y1="469.40" x2="285.50" y2="469.40" stroke="#777" stroke-width="0.6"/>
<line x1="327.20" y1="498.30" x2="327.20" y2="499.50" stroke="#777" stroke-width="0.6"/>
<line x1="286.70" y1="480.90" x2="285.50" y2="480.90" stroke="#777" stroke-width="0.6"/>
<line x1="338.70" y1="498.30" x2="338.70" y2="499.50" stroke="#777" stroke-width="0.6"/>
<line x1="286.70" y1="492.40" x2="285.50" y2="492.40" stroke="#777" stroke-width="0.6"/>
<g transform="translate(286.7,440.4)"><g filter="url(#blur2)"><ellipse cx="23" cy="36" rx="15" ry="7" fill="#eeeeee"/><ellipse cx="21.6" cy="46.6" rx="15" ry="8.8" fill="#cdcdcd"/></g><circle cx="21.5" cy="38.1" r="0.33" fill="#9a9a9a"/><circle cx="36.6" cy="36.4" r="0.33" fill="#9a9a9a"/><circle cx="23.3" cy="38.6" r="0.33" fill="#9a9a9a"/><circle cx="12.9" cy="37.2" r="0.33" fill="#9a9a9a"/><circle cx="27.2" cy="42.3" r="0.33" fill="#9a9a9a"/><circle cx="10.0" cy="33.5" r="0.33" fill="#9a9a9a"/><circle cx="29.2" cy="28.8" r="0.33" fill="#9a9a9a"/><circle cx="27.9" cy="39.1" r="0.33" fill="#9a9a9a"/><circle cx="23.9" cy="29.1" r="0.33" fill="#9a9a9a"/><circle cx="13.1" cy="32.4" r="0.33" fill="#9a9a9a"/><circle cx="8.0" cy="36.4" r="0.33" fill="#9a9a9a"/><circle cx="21.1" cy="43.2" r="0.33" fill="#9a9a9a"/><circle cx="23.6" cy="39.5" r="0.33" fill="#9a9a9a"/><circle cx="23.0" cy="39.9" r="0.33" fill="#9a9a9a"/><circle cx="21.6" cy="33.0" r="0.33" fill="#9a9a9a"/><circle cx="33.9" cy="40.7" r="0.33" fill="#9a9a9a"/><circle cx="17.1" cy="32.1" r="0.33" fill="#9a9a9a"/><circle cx="16.2" cy="29.3" r="0.33" fill="#9a9a9a"/><circle cx="31.5" cy="35.2" r="0.33" fill="#9a9a9a"/><circle cx="34.1" cy="35.0" r="0.33" fill="#9a9a9a"/><circle cx="36.1" cy="36.5" r="0.33" fill="#9a9a9a"/><circle cx="38.4" cy="35.2" r="0.33" fill="#9a9a9a"/><circle cx="9.3" cy="39.3" r="0.33" fill="#9a9a9a"/><circle cx="31.9" cy="32.9" r="0.33" fill="#9a9a9a"/><circle cx="9.8" cy="34.0" r="0.33" fill="#9a9a9a"/><circle cx="10.8" cy="32.4" r="0.33" fill="#9a9a9a"/><circle cx="32.5" cy="31.2" r="0.33" fill="#9a9a9a"/><circle cx="24.9" cy="36.1" r="0.33" fill="#9a9a9a"/><circle cx="13.1" cy="41.2" r="0.33" fill="#9a9a9a"/><circle cx="11.2" cy="39.6" r="0.33" fill="#9a9a9a"/><circle cx="10.7" cy="35.6" r="0.33" fill="#9a9a9a"/><circle cx="13.8" cy="32.9" r="0.33" fill="#9a9a9a"/><circle cx="16.7" cy="43.9" r="0.33" fill="#9a9a9a"/><circle cx="13.7" cy="35.1" r="0.33" fill="#9a9a9a"/><circle cx="34.3" cy="39.6" r="0.33" fill="#9a9a9a"/><circle cx="13.8" cy="32.6" r="0.33" fill="#9a9a9a"/><circle cx="31.7" cy="33.9" r="0.33" fill="#9a9a9a"/><circle cx="16.5" cy="29.3" r="0.33" fill="#9a9a9a"/><circle cx="9.9" cy="38.5" r="0.33" fill="#9a9a9a"/><circle cx="14.8" cy="38.8" r="0.33" fill="#9a9a9a"/><circle cx="18.9" cy="36.2" r="0.33" fill="#9a9a9a"/><circle cx="37.7" cy="36.7" r="0.33" fill="#9a9a9a"/><circle cx="25.4" cy="43.6" r="0.33" fill="#9a9a9a"/><circle cx="12.9" cy="30.8" r="0.33" fill="#9a9a9a"/><circle cx="15.0" cy="31.4" r="0.33" fill="#9a9a9a"/><circle cx="35.2" cy="38.9" r="0.33" fill="#9a9a9a"/><circle cx="20.5" cy="29.9" r="0.33" fill="#9a9a9a"/><circle cx="14.6" cy="40.7" r="0.33" fill="#9a9a9a"/><circle cx="15.2" cy="42.8" r="0.33" fill="#9a9a9a"/><circle cx="26.1" cy="33.3" r="0.33" fill="#9a9a9a"/><circle cx="12.6" cy="41.0" r="0.33" fill="#9a9a9a"/><circle cx="24.9" cy="43.3" r="0.33" fill="#9a9a9a"/><circle cx="26.7" cy="33.0" r="0.33" fill="#9a9a9a"/><circle cx="21.3" cy="29.1" r="0.33" fill="#9a9a9a"/><circle cx="12.6" cy="34.6" r="0.33" fill="#9a9a9a"/><circle cx="25.3" cy="30.4" r="0.33" fill="#9a9a9a"/><circle cx="18.6" cy="44.0" r="0.33" fill="#9a9a9a"/><circle cx="29.1" cy="38.5" r="0.33" fill="#9a9a9a"/><circle cx="7.7" cy="39.5" r="0.33" fill="#9a9a9a"/><circle cx="22.4" cy="41.1" r="0.33" fill="#9a9a9a"/><circle cx="9.4" cy="37.8" r="0.33" fill="#9a9a9a"/><circle cx="30.6" cy="44.2" r="0.33" fill="#9a9a9a"/><circle cx="30.6" cy="40.7" r="0.33" fill="#9a9a9a"/><circle cx="18.3" cy="40.3" r="0.33" fill="#9a9a9a"/><circle cx="20.3" cy="42.2" r="0.33" fill="#9a9a9a"/><circle cx="34.6" cy="38.3" r="0.33" fill="#9a9a9a"/><circle cx="27.0" cy="34.9" r="0.33" fill="#9a9a9a"/><circle cx="25.6" cy="39.0" r="0.33" fill="#9a9a9a"/><circle cx="9.6" cy="39.5" r="0.33" fill="#9a9a9a"/><circle cx="30.3" cy="35.0" r="0.33" fill="#9a9a9a"/><circle cx="30.5" cy="38.5" r="0.33" fill="#9a9a9a"/><circle cx="21.1" cy="43.1" r="0.33" fill="#9a9a9a"/><circle cx="9.7" cy="41.5" r="0.33" fill="#9a9a9a"/><circle cx="8.0" cy="38.8" r="0.33" fill="#9a9a9a"/><circle cx="22.4" cy="32.1" r="0.33" fill="#9a9a9a"/><circle cx="29.3" cy="37.0" r="0.33" fill="#9a9a9a"/><circle cx="26.7" cy="44.6" r="0.33" fill="#9a9a9a"/><circle cx="16.6" cy="40.2" r="0.33" fill="#9a9a9a"/><circle cx="13.5" cy="31.1" r="0.33" fill="#9a9a9a"/><circle cx="36.0" cy="39.9" r="0.33" fill="#9a9a9a"/><circle cx="21.1" cy="44.1" r="0.33" fill="#9a9a9a"/><circle cx="17.5" cy="40.0" r="0.33" fill="#9a9a9a"/><circle cx="13.4" cy="35.8" r="0.33" fill="#9a9a9a"/><circle cx="35.2" cy="34.9" r="0.33" fill="#9a9a9a"/><circle cx="25.7" cy="33.7" r="0.33" fill="#9a9a9a"/><circle cx="11.4" cy="36.9" r="0.33" fill="#9a9a9a"/><circle cx="33.8" cy="43.3" r="0.33" fill="#9a9a9a"/><circle cx="29.8" cy="45.1" r="0.33" fill="#9a9a9a"/><circle cx="15.9" cy="31.0" r="0.33" fill="#9a9a9a"/><circle cx="21.4" cy="33.0" r="0.33" fill="#9a9a9a"/><circle cx="13.9" cy="35.5" r="0.33" fill="#9a9a9a"/><circle cx="27.0" cy="36.9" r="0.33" fill="#9a9a9a"/><circle cx="17.1" cy="43.1" r="0.33" fill="#9a9a9a"/><circle cx="38.4" cy="36.1" r="0.33" fill="#9a9a9a"/><circle cx="29.7" cy="38.3" r="0.33" fill="#9a9a9a"/><circle cx="16.9" cy="42.2" r="0.33" fill="#9a9a9a"/><circle cx="21.6" cy="28.4" r="0.33" fill="#9a9a9a"/><circle cx="33.5" cy="32.3" r="0.33" fill="#9a9a9a"/><circle cx="27.1" cy="36.0" r="0.33" fill="#9a9a9a"/><circle cx="27.2" cy="39.8" r="0.33" fill="#9a9a9a"/><circle cx="28.9" cy="31.6" r="0.33" fill="#9a9a9a"/><circle cx="22.2" cy="31.2" r="0.33" fill="#9a9a9a"/><circle cx="7.3" cy="36.5" r="0.33" fill="#9a9a9a"/><circle cx="29.9" cy="31.2" r="0.33" fill="#9a9a9a"/><circle cx="15.7" cy="34.2" r="0.33" fill="#9a9a9a"/><circle cx="29.3" cy="37.4" r="0.33" fill="#9a9a9a"/><circle cx="26.7" cy="41.6" r="0.33" fill="#9a9a9a"/><circle cx="19.6" cy="42.3" r="0.33" fill="#9a9a9a"/><circle cx="36.8" cy="41.0" r="0.33" fill="#9a9a9a"/><circle cx="11.2" cy="36.2" r="0.33" fill="#9a9a9a"/><circle cx="27.0" cy="44.4" r="0.33" fill="#9a9a9a"/><circle cx="19.1" cy="38.2" r="0.33" fill="#9a9a9a"/><circle cx="35.1" cy="42.3" r="0.33" fill="#9a9a9a"/><circle cx="37.2" cy="36.3" r="0.33" fill="#9a9a9a"/><circle cx="27.8" cy="31.7" r="0.33" fill="#9a9a9a"/><circle cx="30.1" cy="42.7" r="0.33" fill="#9a9a9a"/><circle cx="27.5" cy="40.9" r="0.33" fill="#9a9a9a"/><circle cx="13.8" cy="44.2" r="0.33" fill="#9a9a9a"/><circle cx="24.2" cy="42.2" r="0.33" fill="#9a9a9a"/><circle cx="17.3" cy="44.4" r="0.33" fill="#9a9a9a"/><circle cx="34.4" cy="34.3" r="0.33" fill="#9a9a9a"/><circle cx="9.6" cy="35.9" r="0.33" fill="#9a9a9a"/><circle cx="24.6" cy="41.8" r="0.33" fill="#9a9a9a"/><circle cx="22.6" cy="28.5" r="0.33" fill="#9a9a9a"/><circle cx="32.6" cy="31.1" r="0.33" fill="#9a9a9a"/><circle cx="17.7" cy="42.2" r="0.33" fill="#9a9a9a"/><circle cx="23.5" cy="41.0" r="0.33" fill="#9a9a9a"/><circle cx="33.9" cy="40.4" r="0.33" fill="#9a9a9a"/><circle cx="37.3" cy="36.9" r="0.33" fill="#9a9a9a"/><circle cx="14.1" cy="37.5" r="0.33" fill="#9a9a9a"/><circle cx="16.3" cy="41.1" r="0.33" fill="#9a9a9a"/><circle cx="27.4" cy="37.4" r="0.33" fill="#9a9a9a"/><circle cx="34.0" cy="38.1" r="0.33" fill="#9a9a9a"/><circle cx="17.0" cy="34.9" r="0.33" fill="#9a9a9a"/><circle cx="13.7" cy="43.3" r="0.33" fill="#9a9a9a"/><circle cx="38.0" cy="37.4" r="0.33" fill="#9a9a9a"/><circle cx="25.3" cy="31.6" r="0.33" fill="#9a9a9a"/><circle cx="24.1" cy="37.1" r="0.33" fill="#9a9a9a"/><circle cx="26.4" cy="28.5" r="0.33" fill="#9a9a9a"/><circle cx="38.0" cy="37.3" r="0.33" fill="#9a9a9a"/><circle cx="19.8" cy="42.4" r="0.33" fill="#9a9a9a"/><circle cx="25.0" cy="36.8" r="0.33" fill="#9a9a9a"/><circle cx="29.1" cy="29.2" r="0.33" fill="#9a9a9a"/><circle cx="24.2" cy="35.4" r="0.33" fill="#9a9a9a"/><circle cx="15.6" cy="36.5" r="0.33" fill="#9a9a9a"/><circle cx="11.1" cy="35.8" r="0.33" fill="#9a9a9a"/><circle cx="22.2" cy="33.7" r="0.33" fill="#9a9a9a"/><circle cx="13.1" cy="39.1" r="0.33" fill="#9a9a9a"/><circle cx="13.2" cy="32.1" r="0.33" fill="#9a9a9a"/><circle cx="29.0" cy="33.8" r="0.33" fill="#9a9a9a"/><circle cx="18.4" cy="39.2" r="0.33" fill="#9a9a9a"/><circle cx="10.4" cy="41.2" r="0.33" fill="#9a9a9a"/><circle cx="10.9" cy="37.2" r="0.33" fill="#9a9a9a"/><circle cx="15.0" cy="31.6" r="0.33" fill="#9a9a9a"/><circle cx="24.0" cy="35.9" r="0.33" fill="#9a9a9a"/><circle cx="19.0" cy="35.4" r="0.33" fill="#9a9a9a"/><circle cx="23.9" cy="30.9" r="0.33" fill="#9a9a9a"/><circle cx="13.5" cy="39.4" r="0.33" fill="#9a9a9a"/><circle cx="27.4" cy="37.5" r="0.33" fill="#9a9a9a"/><circle cx="34.2" cy="39.0" r="0.33" fill="#9a9a9a"/><circle cx="34.4" cy="32.2" r="0.33" fill="#9a9a9a"/><circle cx="30.7" cy="42.6" r="0.33" fill="#9a9a9a"/><circle cx="35.9" cy="33.7" r="0.33" fill="#9a9a9a"/><circle cx="17.1" cy="44.6" r="0.33" fill="#9a9a9a"/><circle cx="14.7" cy="41.1" r="0.33" fill="#9a9a9a"/><circle cx="15.3" cy="29.7" r="0.33" fill="#9a9a9a"/><circle cx="33.6" cy="35.6" r="0.33" fill="#9a9a9a"/><circle cx="32.3" cy="30.3" r="0.33" fill="#9a9a9a"/><circle cx="19.9" cy="40.3" r="0.33" fill="#9a9a9a"/><circle cx="28.8" cy="44.4" r="0.33" fill="#9a9a9a"/><circle cx="23.2" cy="41.6" r="0.33" fill="#9a9a9a"/><circle cx="23.1" cy="40.3" r="0.33" fill="#9a9a9a"/><circle cx="24.7" cy="37.3" r="0.33" fill="#9a9a9a"/><circle cx="25.2" cy="30.6" r="0.33" fill="#9a9a9a"/><circle cx="12.9" cy="31.7" r="0.33" fill="#9a9a9a"/><circle cx="21.8" cy="41.8" r="0.33" fill="#9a9a9a"/><circle cx="17.5" cy="36.4" r="0.33" fill="#9a9a9a"/><circle cx="23.5" cy="35.7" r="0.33" fill="#9a9a9a"/><circle cx="26.2" cy="28.2" r="0.33" fill="#9a9a9a"/><circle cx="29.4" cy="43.2" r="0.33" fill="#9a9a9a"/><circle cx="12.8" cy="36.2" r="0.33" fill="#9a9a9a"/><circle cx="30.7" cy="35.3" r="0.33" fill="#9a9a9a"/><circle cx="13.2" cy="31.0" r="0.33" fill="#9a9a9a"/><circle cx="23.4" cy="28.3" r="0.33" fill="#9a9a9a"/><circle cx="35.6" cy="42.4" r="0.33" fill="#9a9a9a"/><circle cx="29.5" cy="43.5" r="0.33" fill="#9a9a9a"/><circle cx="27.1" cy="35.3" r="0.33" fill="#9a9a9a"/><circle cx="26.2" cy="37.1" r="0.33" fill="#9a9a9a"/><circle cx="15.3" cy="44.4" r="0.33" fill="#9a9a9a"/><circle cx="30.8" cy="42.0" r="0.33" fill="#9a9a9a"/><circle cx="33.1" cy="35.3" r="0.33" fill="#9a9a9a"/><circle cx="29.2" cy="41.8" r="0.33" fill="#9a9a9a"/><circle cx="31.5" cy="35.3" r="0.33" fill="#9a9a9a"/><circle cx="30.1" cy="29.3" r="0.33" fill="#9a9a9a"/><circle cx="17.9" cy="36.4" r="0.33" fill="#9a9a9a"/><circle cx="27.4" cy="39.2" r="0.33" fill="#9a9a9a"/><circle cx="28.3" cy="34.1" r="0.33" fill="#9a9a9a"/><circle cx="28.1" cy="38.3" r="0.33" fill="#9a9a9a"/><circle cx="24.1" cy="35.0" r="0.33" fill="#9a9a9a"/><circle cx="29.4" cy="41.7" r="0.33" fill="#9a9a9a"/><ellipse cx="21.6" cy="46.8" rx="13.5" ry="7.4" fill="none" stroke="#9a9a9a" stroke-width="0.8" filter="url(#blur1)"/><g filter="url(#blur1)"><path d="M15.5,45.6 L13,45.6 A2.8,2.8 0 1 0 13,51.2 L15.5,51.2" fill="none" stroke="#2a2a2a" stroke-width="1.5"/><line x1="13" y1="48.4" x2="26.3" y2="48.4" stroke="#f4f4f4" stroke-width="1.3"/></g></g>
<rect x="311.40" y="462.20" width="16.00" height="9.50" fill="none" stroke="#5a5a5a" stroke-width="0.9"/>
<text x="328.90" y="464.70" font-size="7.3" fill="#1c1c1c" stroke="#1c1c1c" stroke-width="0.12" textLength="11.4" lengthAdjust="spacingAndGlyphs">LSK</text>
<text x="328.90" y="472.00" font-size="7.3" fill="#1c1c1c" stroke="#1c1c1c" stroke-width="0.12" textLength="12.2" lengthAdjust="spacingAndGlyphs">0.32</text>
<line x1="219.00" y1="381.00" x2="219.00" y2="498.30" stroke="#1c1c1c" stroke-width="1.4"/>
<path d="M216.80,382.00 L219.00,376.50 L221.20,382.00 Z" fill="#1c1c1c"/>
<line x1="223.00" y1="503.80" x2="341.00" y2="503.80" stroke="#1c1c1c" stroke-width="1.4"/>
<path d="M340.00,501.60 L345.50,503.80 L340.00,506.00 Z" fill="#1c1c1c"/>
<text x="202.80" y="404.20" font-size="10.0" fill="#1c1c1c" text-anchor="middle" textLength="13.2" lengthAdjust="spacingAndGlyphs" transform="rotate(-90 202.80 404.20)">WT</text>
<g transform="translate(203.60,485.00) rotate(-90)"><text x="0.00" y="0" font-size="10.00" textLength="24.6" lengthAdjust="spacingAndGlyphs" fill="#1c1c1c">SRC-3</text><text x="25.00" y="-3.80" font-size="6.50" fill="#1c1c1c" textLength="9" lengthAdjust="spacingAndGlyphs">-/-</text></g>
<text x="213.80" y="439.40" font-size="9.3" fill="#1c1c1c" text-anchor="middle" stroke="#1c1c1c" stroke-width="0.12" textLength="14.4" lengthAdjust="spacingAndGlyphs" transform="rotate(-90 213.80 439.40)">cKit</text>
<text x="284.90" y="514.40" font-size="9.0" fill="#1c1c1c" text-anchor="middle" stroke="#1c1c1c" stroke-width="0.12" textLength="14.7" lengthAdjust="spacingAndGlyphs">Sca1</text>
<text x="360.50" y="356.70" font-size="11" fill="#1c1c1c" font-weight="bold">I</text>
<line x1="395.70" y1="399.50" x2="395.70" y2="470.10" stroke="#1c1c1c" stroke-width="1.3"/>
<line x1="395.05" y1="469.50" x2="432.60" y2="469.50" stroke="#1c1c1c" stroke-width="1.3"/>
<line x1="392.70" y1="469.50" x2="395.70" y2="469.50" stroke="#1c1c1c" stroke-width="1.1"/>
<text x="389.50" y="471.20" font-size="7.7" fill="#1c1c1c" text-anchor="end" stroke="#1c1c1c" stroke-width="0.12" textLength="14.99" lengthAdjust="spacingAndGlyphs">0.00</text>
<line x1="392.70" y1="452.60" x2="395.70" y2="452.60" stroke="#1c1c1c" stroke-width="1.1"/>
<text x="389.50" y="454.30" font-size="7.7" fill="#1c1c1c" text-anchor="end" stroke="#1c1c1c" stroke-width="0.12" textLength="14.99" lengthAdjust="spacingAndGlyphs">0.02</text>
<line x1="392.70" y1="435.70" x2="395.70" y2="435.70" stroke="#1c1c1c" stroke-width="1.1"/>
<text x="389.50" y="437.40" font-size="7.7" fill="#1c1c1c" text-anchor="end" stroke="#1c1c1c" stroke-width="0.12" textLength="14.99" lengthAdjust="spacingAndGlyphs">0.04</text>
<line x1="392.70" y1="418.80" x2="395.70" y2="418.80" stroke="#1c1c1c" stroke-width="1.1"/>
<text x="389.50" y="420.50" font-size="7.7" fill="#1c1c1c" text-anchor="end" stroke="#1c1c1c" stroke-width="0.12" textLength="14.99" lengthAdjust="spacingAndGlyphs">0.06</text>
<line x1="392.70" y1="401.90" x2="395.70" y2="401.90" stroke="#1c1c1c" stroke-width="1.1"/>
<text x="389.50" y="403.60" font-size="7.7" fill="#1c1c1c" text-anchor="end" stroke="#1c1c1c" stroke-width="0.12" textLength="14.99" lengthAdjust="spacingAndGlyphs">0.08</text>
<line x1="405.65" y1="446.69" x2="405.65" y2="450.06" stroke="#1c1c1c" stroke-width="1.0"/>
<line x1="403.15" y1="446.69" x2="408.15" y2="446.69" stroke="#1c1c1c" stroke-width="1.3"/>
<rect x="398.80" y="450.06" width="13.70" height="19.44" fill="#A9062E" stroke="#7d0420" stroke-width="0.5"/>
<line x1="405.65" y1="469.50" x2="405.65" y2="472.00" stroke="#1c1c1c" stroke-width="1.1"/>
<line x1="423.00" y1="416.26" x2="423.00" y2="423.28" stroke="#1c1c1c" stroke-width="1.0"/>
<line x1="420.50" y1="416.26" x2="425.50" y2="416.26" stroke="#1c1c1c" stroke-width="1.3"/>
<rect x="416.00" y="423.28" width="14.00" height="46.22" fill="#2D4681" stroke="#1d2f5a" stroke-width="0.5"/>
<line x1="423.00" y1="469.50" x2="423.00" y2="472.00" stroke="#1c1c1c" stroke-width="1.1"/>
<circle cx="421.20" cy="411.96" r="1.0" fill="#1c1c1c"/>
<circle cx="424.80" cy="411.96" r="1.0" fill="#1c1c1c"/>
<text x="417.40" y="393.10" font-size="9.4" fill="#1c1c1c" text-anchor="middle" stroke="#1c1c1c" stroke-width="0.12" textLength="16" lengthAdjust="spacingAndGlyphs">LSK</text>
<text x="369.20" y="434.20" font-size="8.2" fill="#1c1c1c" text-anchor="middle" stroke="#1c1c1c" stroke-width="0.12" textLength="39.6" lengthAdjust="spacingAndGlyphs" transform="rotate(-90 369.20 434.20)">% within SP</text>
<text x="410.55" y="481.80" font-size="9.0" fill="#1c1c1c" text-anchor="end" stroke="#1c1c1c" stroke-width="0.12" textLength="12.5" lengthAdjust="spacingAndGlyphs" transform="rotate(-45 410.55 481.80)">WT</text>
<g transform="translate(426.90,479.5) rotate(-45)">
<g transform="translate(0.00,0.00)"><text x="-26.90" y="0" font-size="9.00" textLength="21" lengthAdjust="spacingAndGlyphs" fill="#1c1c1c" stroke="#1c1c1c" stroke-width="0.12">SRC-3</text><text x="-5.50" y="-3.42" font-size="5.60" fill="#1c1c1c" textLength="5.5" lengthAdjust="spacingAndGlyphs">-/-</text></g>
</g>
<line x1="475.40" y1="399.50" x2="475.40" y2="470.10" stroke="#1c1c1c" stroke-width="1.3"/>
<line x1="474.75" y1="469.50" x2="513.30" y2="469.50" stroke="#1c1c1c" stroke-width="1.3"/>
<line x1="472.40" y1="469.50" x2="475.40" y2="469.50" stroke="#1c1c1c" stroke-width="1.1"/>
<text x="469.20" y="471.20" font-size="7.7" fill="#1c1c1c" text-anchor="end" stroke="#1c1c1c" stroke-width="0.12" textLength="19.27" lengthAdjust="spacingAndGlyphs">0.000</text>
<line x1="472.40" y1="446.76" x2="475.40" y2="446.76" stroke="#1c1c1c" stroke-width="1.1"/>
<text x="469.20" y="448.46" font-size="7.7" fill="#1c1c1c" text-anchor="end" stroke="#1c1c1c" stroke-width="0.12" textLength="19.27" lengthAdjust="spacingAndGlyphs">0.005</text>
<line x1="472.40" y1="424.03" x2="475.40" y2="424.03" stroke="#1c1c1c" stroke-width="1.1"/>
<text x="469.20" y="425.73" font-size="7.7" fill="#1c1c1c" text-anchor="end" stroke="#1c1c1c" stroke-width="0.12" textLength="19.27" lengthAdjust="spacingAndGlyphs">0.010</text>
<line x1="472.40" y1="401.30" x2="475.40" y2="401.30" stroke="#1c1c1c" stroke-width="1.1"/>
<text x="469.20" y="403.00" font-size="7.7" fill="#1c1c1c" text-anchor="end" stroke="#1c1c1c" stroke-width="0.12" textLength="19.27" lengthAdjust="spacingAndGlyphs">0.015</text>
<line x1="486.00" y1="449.49" x2="486.00" y2="452.68" stroke="#1c1c1c" stroke-width="1.0"/>
<line x1="483.50" y1="449.49" x2="488.50" y2="449.49" stroke="#1c1c1c" stroke-width="1.3"/>
<rect x="479.00" y="452.68" width="14.00" height="16.82" fill="#A9062E" stroke="#7d0420" stroke-width="0.5"/>
<line x1="486.00" y1="469.50" x2="486.00" y2="472.00" stroke="#1c1c1c" stroke-width="1.1"/>
<line x1="502.80" y1="424.03" x2="502.80" y2="430.40" stroke="#1c1c1c" stroke-width="1.0"/>
<line x1="500.30" y1="424.03" x2="505.30" y2="424.03" stroke="#1c1c1c" stroke-width="1.3"/>
<rect x="495.80" y="430.40" width="14.00" height="39.10" fill="#2D4681" stroke="#1d2f5a" stroke-width="0.5"/>
<line x1="502.80" y1="469.50" x2="502.80" y2="472.00" stroke="#1c1c1c" stroke-width="1.1"/>
<circle cx="501.00" cy="419.73" r="1.0" fill="#1c1c1c"/>
<circle cx="504.60" cy="419.73" r="1.0" fill="#1c1c1c"/>
<text x="497.00" y="393.10" font-size="9.4" fill="#1c1c1c" text-anchor="middle" stroke="#1c1c1c" stroke-width="0.12" textLength="16" lengthAdjust="spacingAndGlyphs">LSK</text>
<text x="444.20" y="434.20" font-size="8.2" fill="#1c1c1c" text-anchor="middle" stroke="#1c1c1c" stroke-width="0.12" textLength="39.6" lengthAdjust="spacingAndGlyphs" transform="rotate(-90 444.20 434.20)">% within PB</text>
<text x="490.90" y="481.80" font-size="9.0" fill="#1c1c1c" text-anchor="end" stroke="#1c1c1c" stroke-width="0.12" textLength="12.5" lengthAdjust="spacingAndGlyphs" transform="rotate(-45 490.90 481.80)">WT</text>
<g transform="translate(506.70,479.5) rotate(-45)">
<g transform="translate(0.00,0.00)"><text x="-26.90" y="0" font-size="9.00" textLength="21" lengthAdjust="spacingAndGlyphs" fill="#1c1c1c" stroke="#1c1c1c" stroke-width="0.12">SRC-3</text><text x="-5.50" y="-3.42" font-size="5.60" fill="#1c1c1c" textLength="5.5" lengthAdjust="spacingAndGlyphs">-/-</text></g>
</g>
<rect x="0.7" y="0.7" width="518.6" height="522.6" fill="none" stroke="#000" stroke-width="1.4"/>
</svg></body></html>
